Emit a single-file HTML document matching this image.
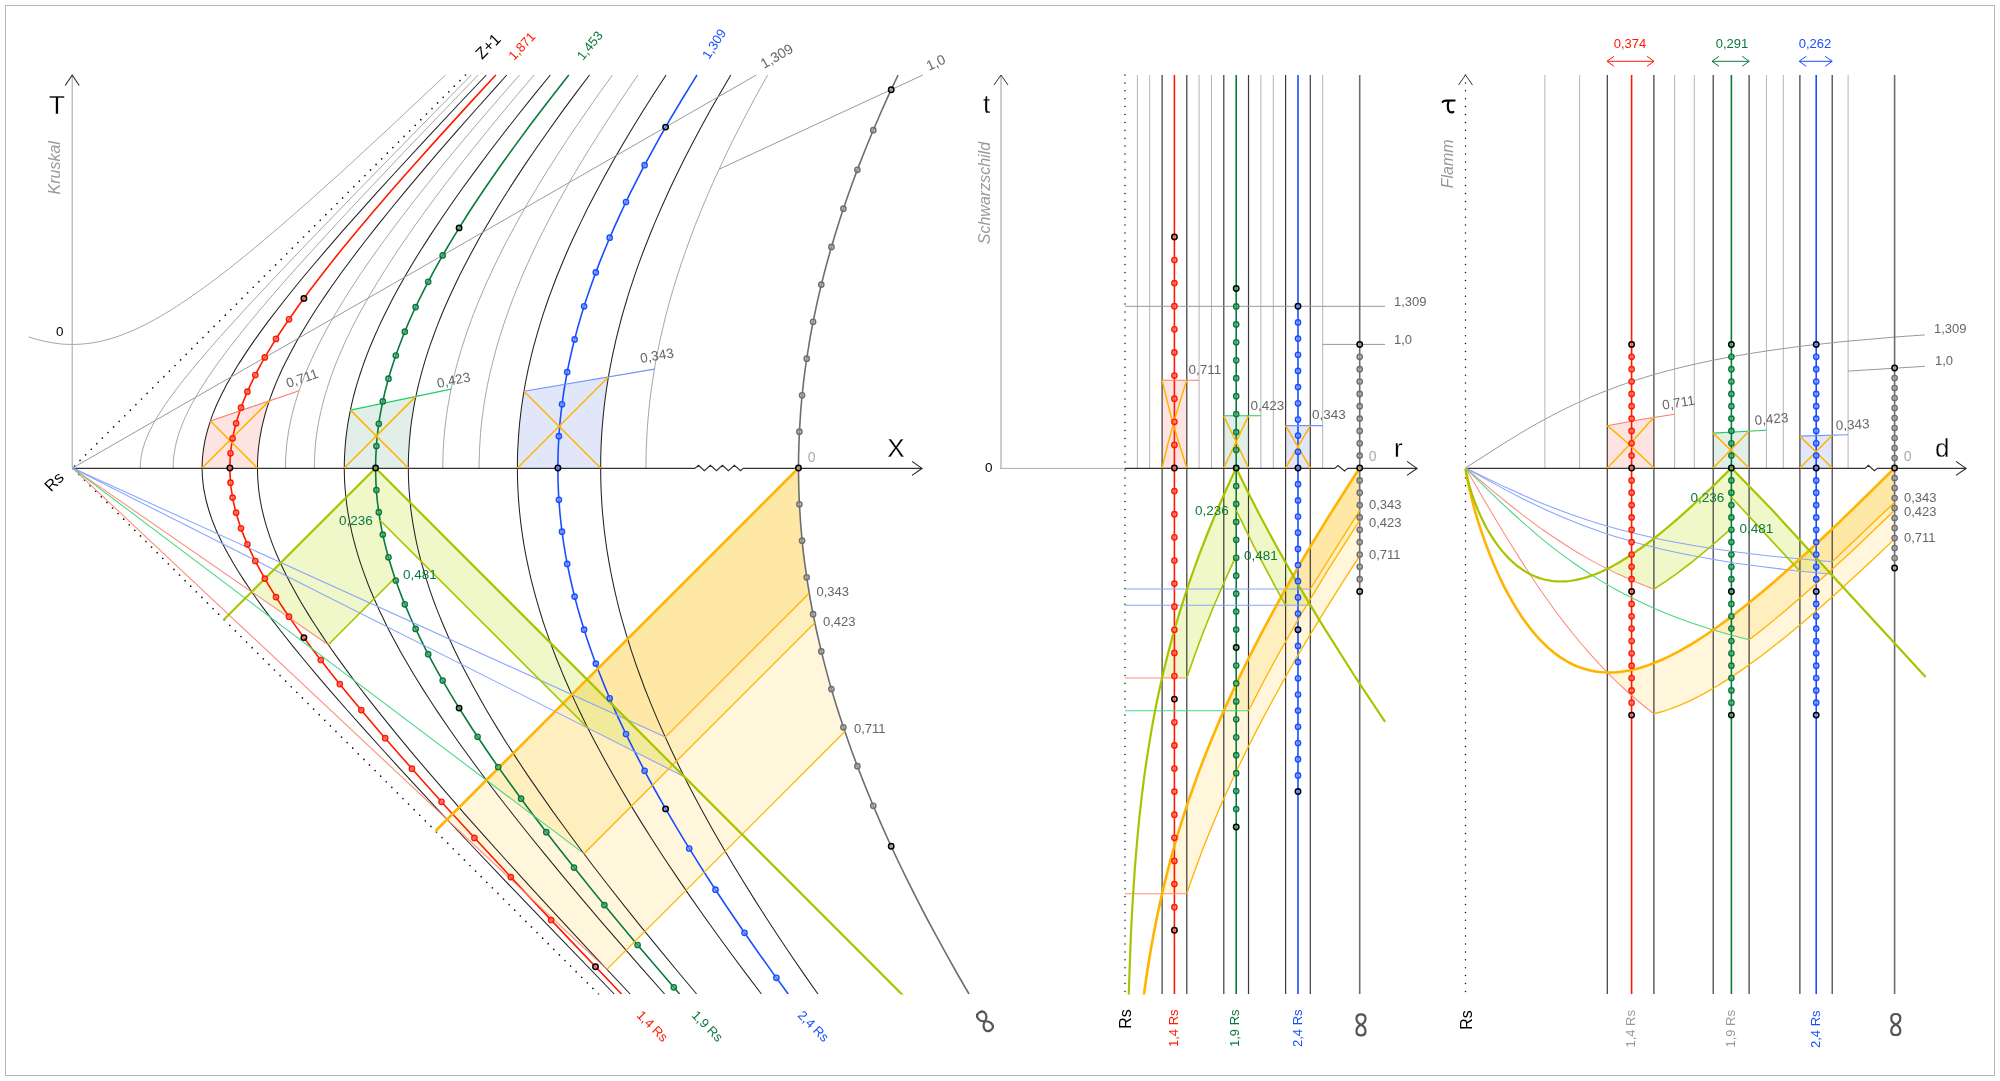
<!DOCTYPE html>
<html><head><meta charset="utf-8"><style>
html,body{margin:0;padding:0;background:#fff;}
body{width:2000px;height:1081px;overflow:hidden;}
svg{display:block;will-change:transform;}
text{font-family:"Liberation Sans",sans-serif;}
</style></head><body>
<svg width="2000" height="1081" viewBox="0 0 2000 1081">
<rect x="0" y="0" width="2000" height="1081" fill="#fff"/>
<rect x="5.5" y="5.5" width="1989" height="1070" fill="none" stroke="#b5b5b5" stroke-width="1"/>
<defs>
<clipPath id="clipall"><rect x="0" y="60" width="2000" height="934.5"/></clipPath>
<clipPath id="cs"><rect x="990" y="74" width="440" height="921"/></clipPath>
<clipPath id="cf"><rect x="1440" y="74" width="540" height="921"/></clipPath>
</defs>
<g clip-path="url(#clipall)">
<path d="M202.1,468.0L202.4,460.1L203.1,452.1L204.3,444.0L206.0,435.9L208.3,427.7L210.4,421.0L269.3,400.9L266.2,410.4L263.6,419.9L261.5,429.2L260.2,436.1L259.1,443.0L258.3,449.8L257.8,456.7L257.5,463.5L257.4,468.0Z" fill="#fde4e1" stroke="none" stroke-width="0" />
<path d="M344.3,468.0L344.6,456.1L345.3,444.2L346.6,432.2L348.5,420.2L350.4,410.1L415.9,396.4L413.5,408.9L411.6,421.3L410.1,433.6L409.1,445.9L408.5,458.2L408.3,468.0Z" fill="#e2eee8" stroke="none" stroke-width="0" />
<path d="M517.4,468.0L517.7,452.2L518.5,436.4L519.9,420.5L521.9,404.6L524.0,391.3L608.4,377.0L606.0,392.8L604.0,408.5L602.5,424.2L601.4,439.9L600.8,455.5L600.6,468.0Z" fill="#e1e7f9" stroke="none" stroke-width="0" />
<path d="M571.8,694.7L798.5,468.0L798.6,481.1L799.0,494.2L799.6,507.4L800.4,520.5L801.5,533.6L802.8,546.8L804.3,560.0L806.1,573.2L808.1,586.5L809.2,593.2L665.3,737.1L571.8,694.7Z" fill="rgba(255,196,40,0.16)" stroke="none" stroke-width="0" />
<path d="M486.4,780.1L798.5,468.0L798.6,476.1L798.7,484.2L798.9,492.3L799.2,500.3L799.6,508.4L800.1,516.5L800.7,524.6L801.4,532.8L802.2,540.9L803.0,549.0L804.0,557.2L805.0,565.3L806.1,573.5L807.4,581.6L808.7,589.8L810.1,598.0L811.6,606.3L813.1,614.5L814.8,622.8L583.9,853.7L486.4,780.1Z" fill="rgba(255,196,40,0.16)" stroke="none" stroke-width="0" />
<path d="M447.1,819.4L798.5,468.0L798.6,481.6L799.0,495.2L799.7,508.8L800.5,522.4L801.7,536.0L803.1,549.7L804.7,563.3L806.7,577.1L808.8,590.8L811.3,604.6L813.9,618.4L816.9,632.3L820.1,646.3L823.6,660.3L827.3,674.4L831.3,688.6L835.5,702.8L840.1,717.1L844.9,731.5L606.9,969.4L447.1,819.4Z" fill="rgba(255,196,40,0.16)" stroke="none" stroke-width="0" />
<path d="M251.8,591.8L375.6,468.0L375.6,473.7L375.8,479.3L376.0,485.0L376.4,490.7L376.9,496.4L377.5,502.1L378.2,507.8L379.0,513.5L379.9,519.3L380.9,525.0L382.0,530.8L383.2,536.6L384.6,542.4L386.0,548.3L387.6,554.2L389.2,560.1L391.0,566.0L392.9,572.0L394.9,578.0L328.3,644.7L251.8,591.8Z" fill="rgba(200,225,60,0.28)" stroke="none" stroke-width="0" />
<path d="M375.6,468.0L684.2,776.7L587.8,728.0L380.0,520.2L378.4,509.2L377.1,498.2L376.2,487.2L375.7,476.2L375.6,468.0Z" fill="rgba(200,225,60,0.28)" stroke="none" stroke-width="0" />
<path d="M1162.1,468.0L1162.1,380.2L1186.8,380.2L1186.8,468.0Z" fill="#fde4e1" stroke="none" stroke-width="0" />
<path d="M1223.8,468.0L1223.8,415.7L1248.5,415.7L1248.5,468.0Z" fill="#e2eee8" stroke="none" stroke-width="0" />
<path d="M1285.6,468.0L1285.6,425.6L1310.3,425.6L1310.3,468.0Z" fill="#e1e7f9" stroke="none" stroke-width="0" />
<path d="M1285.6,589.0L1336.3,504.5L1359.7,468.0L1359.7,510.4L1310.3,589.0L1285.6,589.0Z" fill="rgba(255,196,40,0.16)" stroke="none" stroke-width="0" />
<path d="M1223.8,710.8L1234.2,688.2L1246.2,663.2L1261.7,632.9L1280.6,597.9L1303.0,559.0L1332.2,510.9L1359.7,468.0L1359.7,520.3L1321.7,580.1L1292.2,629.8L1269.7,670.2L1251.4,705.2L1248.5,710.8L1223.8,710.8Z" fill="rgba(255,196,40,0.16)" stroke="none" stroke-width="0" />
<path d="M1162.1,893.7L1164.6,883.2L1167.1,873.1L1169.6,863.4L1172.1,854.2L1174.6,845.3L1177.1,836.7L1182.1,820.4L1187.1,805.0L1192.1,790.4L1197.1,776.5L1202.1,763.2L1207.1,750.4L1214.6,732.1L1222.1,714.7L1229.6,698.0L1237.1,681.9L1247.1,661.3L1257.2,641.6L1269.7,617.9L1284.7,590.7L1302.2,560.3L1322.2,527.1L1344.7,491.2L1359.7,468.0L1359.7,555.8L1333.5,596.8L1311.6,632.4L1291.9,665.9L1276.5,693.1L1263.4,717.4L1252.5,738.6L1241.5,760.6L1232.8,779.0L1224.0,798.2L1217.4,813.3L1210.9,829.0L1204.3,845.4L1197.7,862.6L1193.3,874.7L1189.0,887.2L1186.8,893.7L1162.1,893.7Z" fill="rgba(255,196,40,0.16)" stroke="none" stroke-width="0" />
<path d="M1162.1,677.9L1167.7,654.8L1174.3,630.5L1181.8,605.5L1191.2,577.2L1202.4,546.5L1216.5,511.8L1235.3,470.0L1236.2,468.0L1236.2,555.8L1213.0,607.8L1196.2,651.0L1186.8,677.9L1162.1,677.9Z" fill="rgba(200,225,60,0.28)" stroke="none" stroke-width="0" />
<path d="M1236.2,468.0L1261.5,518.7L1298.1,584.6L1310.3,605.2L1285.6,605.2L1246.2,531.0L1236.2,510.4L1236.2,468.0Z" fill="rgba(200,225,60,0.28)" stroke="none" stroke-width="0" />
<path d="M1607.3,468.0L1607.3,425.8L1637.7,420.0L1653.9,417.3L1653.9,468.0Z" fill="#fde4e1" stroke="none" stroke-width="0" />
<path d="M1713.2,468.0L1713.2,433.1L1749.1,431.0L1749.1,468.0Z" fill="#e2eee8" stroke="none" stroke-width="0" />
<path d="M1799.9,468.0L1799.9,436.1L1832.2,435.2L1832.2,468.0Z" fill="#e1e7f9" stroke="none" stroke-width="0" />
<path d="M1799.9,559.0L1894.6,468.0L1894.6,502.3L1832.2,561.7L1799.9,559.0Z" fill="rgba(255,196,40,0.16)" stroke="none" stroke-width="0" />
<path d="M1713.2,629.9L1725.9,620.7L1740.9,609.3L1760.3,593.5L1786.2,571.2L1822.7,537.9L1890.3,472.3L1894.6,468.0L1894.6,510.3L1834.2,567.5L1797.4,600.4L1770.7,622.8L1751.1,638.2L1749.1,639.7L1733.4,635.6L1717.3,631.1L1713.2,629.9Z" fill="rgba(255,196,40,0.16)" stroke="none" stroke-width="0" />
<path d="M1607.3,672.5L1612.5,672.5L1617.5,672.2L1622.4,671.6L1627.2,670.8L1631.9,669.9L1636.6,668.8L1641.1,667.5L1645.6,666.1L1650.0,664.5L1654.4,662.9L1658.7,661.1L1662.9,659.3L1667.1,657.3L1671.3,655.3L1675.4,653.2L1683.4,648.8L1691.4,644.1L1699.2,639.2L1706.8,634.2L1714.4,629.0L1725.5,621.0L1736.4,612.8L1750.7,601.4L1764.7,589.9L1781.8,575.1L1805.3,554.1L1834.6,526.6L1882.1,480.4L1894.6,468.0L1894.6,539.1L1853.4,577.7L1825.3,603.0L1802.4,622.9L1784.8,637.5L1769.8,649.3L1757.7,658.5L1745.3,667.5L1735.9,674.0L1726.4,680.3L1716.7,686.3L1710.1,690.2L1703.5,693.9L1696.7,697.4L1689.9,700.8L1682.9,703.9L1675.9,706.9L1668.7,709.5L1665.0,710.7L1661.4,711.8L1657.6,712.9L1653.9,713.8L1649.1,710.1L1644.2,706.2L1639.2,702.1L1634.2,697.8L1629.1,693.3L1623.8,688.5L1618.5,683.5L1613.0,678.2L1607.3,672.5Z" fill="rgba(255,196,40,0.16)" stroke="none" stroke-width="0" />
<path d="M1607.3,568.8L1615.0,564.8L1624.2,559.3L1634.8,552.4L1646.7,543.9L1662.9,531.2L1684.4,512.7L1720.4,478.9L1731.4,468.0L1731.4,528.4L1694.8,559.7L1670.8,577.9L1653.9,589.2L1644.2,585.4L1634.2,581.3L1623.8,576.7L1613.0,571.6L1607.3,568.8Z" fill="rgba(200,225,60,0.28)" stroke="none" stroke-width="0" />
<path d="M1731.4,468.0L1832.2,574.3L1799.9,571.2L1731.4,497.2L1731.4,468.0Z" fill="rgba(200,225,60,0.28)" stroke="none" stroke-width="0" />
<path d="M140.2,468.0L140.3,465.2L140.5,462.3L140.7,459.5L141.2,456.7L141.7,453.8L142.3,450.9L143.1,448.0L144.0,445.0L145.0,442.0L146.2,439.0L147.5,435.9L148.9,432.7L150.4,429.5L152.1,426.2L153.9,422.9L155.8,419.4L160.2,412.3L165.1,404.8L170.7,396.8L177.0,388.4L184.0,379.4L191.8,369.8L200.4,359.5L209.9,348.4L220.4,336.5L238.0,317.0L258.2,295.1L281.4,270.4L317.4,232.7L360.2,188.4L425.1,121.9L471.3,75.0" fill="none" stroke="#a6a6a6" stroke-width="1" />
<path d="M173.2,468.0L173.2,464.5L173.4,460.9L173.7,457.4L174.2,453.8L174.7,450.2L175.4,446.6L176.2,443.0L177.2,439.4L178.2,435.7L179.4,431.9L180.8,428.2L182.2,424.3L183.8,420.4L185.6,416.5L187.5,412.5L189.5,408.4L191.6,404.3L194.0,400.1L196.4,395.8L199.0,391.4L201.8,386.9L207.8,377.6L214.5,367.9L221.9,357.6L230.0,346.9L238.9,335.5L248.6,323.5L259.2,310.8L270.7,297.2L283.2,282.9L296.7,267.6L319.1,242.9L344.2,215.6L372.4,185.5L403.8,152.3L451.6,102.5L478.2,75.0" fill="none" stroke="#a6a6a6" stroke-width="1" />
<path d="M285.5,468.0L285.5,463.0L285.7,458.1L286.0,453.1L286.4,448.2L286.9,443.2L287.6,438.2L288.3,433.2L289.2,428.1L290.2,423.1L291.3,418.0L292.5,412.9L293.8,407.8L295.3,402.6L296.9,397.4L298.6,392.2L300.4,386.9L302.4,381.6L304.4,376.2L306.6,370.8L308.9,365.3L311.4,359.8L314.0,354.2L316.7,348.6L319.5,342.8L322.5,337.1L325.6,331.2L328.9,325.3L332.3,319.3L335.8,313.2L343.3,300.8L351.4,288.0L360.0,274.8L369.3,261.2L379.3,247.2L389.9,232.7L401.2,217.7L413.2,202.1L425.9,186.0L439.4,169.2L453.7,151.8L468.8,133.7L484.8,114.9L501.7,95.4L519.5,75.0" fill="none" stroke="#a6a6a6" stroke-width="1" />
<path d="M314.3,468.0L314.4,462.8L314.6,457.6L314.8,452.5L315.2,447.3L315.7,442.1L316.3,436.9L317.1,431.6L317.9,426.4L318.8,421.1L319.9,415.9L321.1,410.6L322.4,405.2L323.8,399.9L325.3,394.5L326.9,389.1L328.7,383.6L330.5,378.1L332.5,372.6L334.6,367.0L336.8,361.3L339.2,355.7L341.6,349.9L344.2,344.1L346.9,338.3L349.8,332.4L352.7,326.4L355.8,320.4L359.0,314.3L362.4,308.2L369.5,295.6L377.2,282.7L385.4,269.5L394.1,255.9L403.5,242.0L413.5,227.6L424.1,212.8L435.3,197.5L447.2,181.7L459.8,165.4L473.1,148.6L487.2,131.2L502.0,113.1L517.6,94.4L534.0,75.0" fill="none" stroke="#a6a6a6" stroke-width="1" />
<path d="M442.8,468.0L442.8,462.2L443.0,456.4L443.2,450.6L443.5,444.8L443.9,439.0L444.4,433.2L445.0,427.3L445.7,421.5L446.5,415.6L447.3,409.8L448.3,403.9L449.4,398.0L450.5,392.1L451.7,386.2L453.1,380.2L454.5,374.2L456.0,368.2L457.6,362.2L459.3,356.2L461.1,350.1L463.0,344.0L465.0,337.9L467.1,331.7L471.5,319.3L476.4,306.7L481.7,294.0L487.3,281.1L493.4,268.0L499.8,254.7L506.7,241.2L514.1,227.5L521.8,213.5L530.0,199.3L538.6,184.9L547.7,170.1L557.3,155.1L567.3,139.7L577.9,124.1L588.9,108.1L600.4,91.7L612.5,75.0" fill="none" stroke="#a6a6a6" stroke-width="1" />
<path d="M479.1,468.0L479.1,462.1L479.3,456.2L479.5,450.3L479.8,444.3L480.2,438.4L480.6,432.5L481.2,426.6L481.8,420.6L482.6,414.7L483.4,408.7L484.3,402.7L485.3,396.7L486.4,390.7L487.5,384.7L488.8,378.7L490.1,372.6L491.6,366.5L493.1,360.4L496.4,348.1L500.1,335.8L504.1,323.3L508.5,310.7L513.2,297.9L518.4,285.0L523.9,272.0L529.8,258.8L536.0,245.4L542.7,231.8L549.8,218.1L557.2,204.1L565.1,189.9L573.4,175.4L582.1,160.8L591.3,145.8L600.9,130.6L610.9,115.1L621.4,99.3L632.3,83.2L638.0,75.0" fill="none" stroke="#a6a6a6" stroke-width="1" />
<path d="M645.9,468.0L646.1,455.5L646.5,443.1L647.2,430.6L648.1,418.1L649.3,405.6L650.8,393.1L652.6,380.5L654.6,367.9L656.9,355.2L659.5,342.5L662.4,329.7L665.5,316.9L668.9,304.0L672.6,291.0L676.6,277.9L680.9,264.7L685.5,251.5L690.3,238.1L695.4,224.6L700.9,211.0L706.6,197.3L712.6,183.5L719.0,169.5L725.6,155.4L732.5,141.2L739.8,126.8L747.4,112.2L755.2,97.4L763.5,82.5L767.7,75.0" fill="none" stroke="#a6a6a6" stroke-width="1" />
<path d="M614.2,994.0L549.2,926.7L505.9,881.6L466.9,840.5L431.8,803.2L400.3,769.1L381.1,748.0L363.2,728.2L346.6,709.5L331.2,691.9L317.0,675.3L303.8,659.5L291.6,644.6L280.4,630.5L270.1,617.1L260.6,604.4L256.2,598.2L252.0,592.2L248.0,586.3L244.2,580.6L240.6,575.0L237.1,569.5L233.8,564.1L230.8,558.8L227.8,553.6L225.1,548.5L222.5,543.5L220.1,538.6L217.8,533.7L215.7,529.0L213.8,524.2L212.0,519.6L210.4,515.0L208.9,510.5L207.6,506.0L206.4,501.5L205.4,497.1L204.5,492.7L203.7,488.4L203.1,484.1L202.7,479.7L202.3,475.4L202.2,471.1L202.1,466.9L202.2,462.6L202.5,458.3L202.9,454.0L203.4,449.6L204.1,445.3L204.9,440.9L205.9,436.5L207.0,432.1L208.3,427.6L209.7,423.1L211.2,418.6L212.9,413.9L214.8,409.3L216.8,404.5L219.0,399.7L221.4,394.8L223.9,389.9L226.5,384.8L229.4,379.7L232.4,374.4L235.6,369.1L238.9,363.6L242.5,358.1L246.2,352.4L250.1,346.6L254.2,340.6L258.5,334.6L267.8,321.9L277.9,308.7L288.9,294.7L300.8,280.0L313.8,264.5L327.8,248.1L342.9,230.7L359.2,212.3L376.8,192.7L395.7,172.0L426.7,138.4L461.2,101.5L486.3,75.0" fill="none" stroke="#222" stroke-width="1.05" />
<path d="M630.1,994.0L588.6,949.8L550.6,908.9L527.1,883.3L505.0,859.0L484.2,835.8L464.6,813.8L446.2,792.7L428.9,772.7L412.7,753.6L397.6,735.3L383.4,717.9L370.1,701.2L357.8,685.2L346.3,669.9L335.6,655.1L330.6,648.0L325.7,641.0L321.1,634.1L316.6,627.3L312.3,620.7L308.2,614.1L304.3,607.7L300.5,601.4L297.0,595.2L293.6,589.1L290.3,583.1L287.2,577.1L284.3,571.3L281.6,565.5L279.0,559.8L276.5,554.2L274.2,548.6L272.1,543.1L270.1,537.6L268.3,532.2L266.6,526.9L265.1,521.6L263.7,516.3L262.4,511.1L261.3,505.9L260.3,500.7L259.5,495.6L258.8,490.5L258.3,485.4L257.9,480.3L257.6,475.2L257.5,470.1L257.5,465.0L257.6,460.0L257.9,454.9L258.3,449.8L258.9,444.7L259.6,439.5L260.5,434.4L261.5,429.2L262.6,424.0L263.9,418.8L265.3,413.5L266.9,408.2L268.6,402.8L270.5,397.4L272.5,392.0L274.6,386.5L276.9,380.9L279.4,375.2L282.0,369.5L284.8,363.7L287.8,357.9L290.9,351.9L294.1,345.9L297.6,339.7L301.2,333.5L305.0,327.2L308.9,320.8L313.0,314.2L317.3,307.5L321.8,300.8L326.5,293.9L331.4,286.8L341.7,272.3L352.9,257.2L364.9,241.5L377.8,225.1L391.6,208.0L406.3,190.1L422.1,171.3L438.9,151.7L456.8,131.1L475.9,109.5L496.2,86.8L506.8,75.0" fill="none" stroke="#222" stroke-width="1.05" />
<path d="M664.6,994.0L642.3,968.8L621.2,944.6L601.0,921.3L581.9,898.8L563.7,877.1L546.4,856.2L530.0,836.0L514.5,816.5L499.8,797.7L485.9,779.5L472.8,761.8L460.4,744.8L448.8,728.2L437.8,712.1L432.6,704.3L427.6,696.5L422.7,688.9L418.0,681.3L413.5,673.9L409.1,666.6L404.9,659.3L400.8,652.2L396.9,645.1L393.1,638.1L389.5,631.2L386.1,624.4L382.8,617.6L379.6,610.9L376.6,604.3L373.7,597.7L370.9,591.2L368.3,584.8L365.9,578.4L363.6,572.1L361.4,565.8L359.3,559.6L357.4,553.4L355.6,547.2L354.0,541.1L352.4,535.0L351.1,529.0L349.8,522.9L348.7,516.9L347.7,511.0L346.8,505.0L346.1,499.1L345.5,493.2L345.0,487.3L344.6,481.4L344.4,475.5L344.3,469.6L344.3,463.7L344.5,457.8L344.8,451.9L345.2,446.0L345.7,440.1L346.4,434.1L347.2,428.2L348.1,422.2L349.2,416.3L350.4,410.2L351.7,404.2L353.1,398.1L354.7,392.0L356.4,385.9L358.3,379.7L360.3,373.5L362.4,367.3L364.6,361.0L367.0,354.6L369.5,348.2L372.2,341.7L375.0,335.2L378.0,328.6L381.0,322.0L384.3,315.2L387.7,308.5L391.2,301.6L394.9,294.6L398.7,287.6L402.7,280.5L406.8,273.3L411.1,266.0L415.6,258.6L420.2,251.1L425.0,243.6L429.9,235.9L440.3,220.2L451.4,204.0L463.2,187.3L475.8,170.1L489.1,152.3L503.1,134.0L518.0,115.0L533.7,95.3L550.3,75.0" fill="none" stroke="#222" stroke-width="1.05" />
<path d="M696.6,994.0L677.3,971.0L658.9,948.7L641.3,927.1L624.5,906.1L608.5,885.7L593.2,866.0L578.7,846.7L564.9,828.0L551.7,809.9L539.3,792.1L527.4,774.9L516.3,758.1L505.7,741.7L495.8,725.6L491.0,717.7L486.4,710.0L482.0,702.2L477.7,694.6L473.5,687.1L469.5,679.6L465.6,672.2L461.8,664.9L458.2,657.6L454.7,650.5L451.4,643.3L448.1,636.3L445.1,629.3L442.1,622.3L439.3,615.4L436.6,608.6L434.0,601.8L431.6,595.1L429.3,588.4L427.1,581.7L425.0,575.1L423.1,568.5L421.2,561.9L419.5,555.4L418.0,549.0L416.5,542.5L415.2,536.1L414.0,529.7L412.9,523.3L411.9,516.9L411.0,510.6L410.3,504.3L409.7,497.9L409.2,491.6L408.8,485.3L408.5,479.0L408.4,472.7L408.3,466.5L408.4,460.2L408.6,453.9L409.0,447.6L409.4,441.3L410.0,435.0L410.6,428.6L411.4,422.3L412.4,416.0L413.4,409.6L414.5,403.2L415.8,396.8L417.2,390.3L418.7,383.9L420.4,377.4L422.1,370.8L424.0,364.3L426.0,357.7L428.1,351.1L430.4,344.4L432.8,337.7L435.3,330.9L437.9,324.1L440.6,317.2L443.5,310.3L446.6,303.3L449.7,296.3L453.0,289.2L456.4,282.0L459.9,274.8L463.6,267.5L467.4,260.2L471.4,252.7L475.5,245.2L479.7,237.6L484.1,230.0L488.7,222.2L493.3,214.4L503.1,198.5L513.5,182.1L524.5,165.4L536.2,148.3L548.5,130.7L561.4,112.6L575.1,94.1L589.5,75.0" fill="none" stroke="#222" stroke-width="1.05" />
<path d="M761.4,994.0L745.8,973.4L730.8,953.2L716.4,933.5L702.6,914.2L689.4,895.4L676.8,876.9L664.6,858.8L653.1,841.0L642.1,823.6L631.6,806.6L621.6,789.8L612.1,773.3L603.1,757.1L594.6,741.2L586.5,725.5L579.0,710.1L575.4,702.4L571.9,694.8L568.5,687.3L565.2,679.8L562.1,672.4L559.1,665.0L556.1,657.7L553.3,650.4L550.6,643.1L548.0,635.9L545.5,628.7L543.1,621.6L540.9,614.5L538.7,607.4L536.7,600.3L534.7,593.3L532.9,586.4L531.1,579.4L529.5,572.5L528.0,565.6L526.5,558.7L525.2,551.8L524.0,545.0L522.9,538.2L521.9,531.3L521.0,524.6L520.2,517.8L519.5,511.0L518.9,504.2L518.4,497.5L518.0,490.7L517.7,484.0L517.5,477.3L517.4,470.5L517.4,463.8L517.5,457.1L517.7,450.3L518.1,443.6L518.5,436.8L519.0,430.1L519.6,423.3L520.4,416.6L521.2,409.8L522.1,403.0L523.2,396.2L524.3,389.3L525.5,382.5L526.9,375.6L528.3,368.7L529.9,361.8L531.5,354.9L533.3,347.9L535.2,340.9L537.2,333.9L539.2,326.9L541.4,319.8L543.7,312.7L546.1,305.5L548.6,298.3L551.3,291.1L554.0,283.8L556.8,276.5L559.8,269.2L562.9,261.8L566.0,254.3L569.3,246.8L572.7,239.3L576.3,231.7L579.9,224.1L587.5,208.6L595.6,192.9L604.2,176.9L613.2,160.7L622.8,144.2L632.8,127.4L643.4,110.2L654.5,92.8L666.1,75.0" fill="none" stroke="#222" stroke-width="1.05" />
<path d="M817.9,994.0L804.3,974.6L791.2,955.5L778.6,936.7L766.5,918.3L754.9,900.1L743.8,882.3L733.1,864.8L722.9,847.5L713.1,830.5L703.8,813.8L694.9,797.3L686.4,781.0L678.4,764.9L670.8,749.1L663.6,733.4L656.8,717.9L650.4,702.6L644.4,687.5L638.9,672.5L636.2,665.1L633.7,657.7L631.2,650.3L628.9,642.9L626.6,635.6L624.5,628.4L622.4,621.1L620.4,613.9L618.5,606.7L616.8,599.5L615.1,592.3L613.5,585.2L612.0,578.1L610.6,571.0L609.3,563.9L608.1,556.9L606.9,549.8L605.9,542.8L605.0,535.8L604.1,528.8L603.4,521.8L602.7,514.8L602.1,507.8L601.7,500.8L601.3,493.9L601.0,486.9L600.8,479.9L600.7,473.0L600.7,466.0L600.7,459.1L600.9,452.1L601.1,445.2L601.5,438.2L601.9,431.2L602.5,424.3L603.1,417.3L603.8,410.3L604.6,403.3L605.5,396.3L606.5,389.2L607.6,382.2L608.7,375.2L610.0,368.1L611.4,361.0L612.8,353.9L614.4,346.8L616.0,339.6L617.8,332.5L619.6,325.3L621.5,318.0L623.5,310.8L625.7,303.5L627.9,296.2L630.2,288.9L632.6,281.6L635.1,274.2L637.7,266.7L643.2,251.8L649.1,236.7L655.4,221.4L662.1,206.0L669.2,190.3L676.7,174.5L684.6,158.5L693.0,142.3L701.8,125.8L711.0,109.1L720.7,92.2L730.8,75.0" fill="none" stroke="#222" stroke-width="1.05" />
<path d="M28.8,336.9L34.0,338.6L39.3,340.1L44.6,341.3L49.9,342.4L55.1,343.2L60.4,343.9L65.7,344.3L71.0,344.4L76.2,344.4L81.5,344.1L86.8,343.6L92.1,342.9L97.4,342.0L102.6,340.8L107.9,339.5L113.2,337.9L118.5,336.2L123.7,334.2L129.0,332.1L134.3,329.9L139.6,327.4L144.8,324.8L150.1,322.1L155.4,319.2L160.7,316.2L165.9,313.1L171.2,309.9L176.5,306.5L187.0,299.5L197.6,292.2L208.2,284.5L218.7,276.6L229.3,268.4L245.1,255.8L260.9,242.7L282.0,224.8L308.4,201.7L340.1,173.3L387.5,129.6L445.6,75.0" fill="none" stroke="#a6a6a6" stroke-width="1" />
<path d="M72.2,468.0L72.2,75.0" fill="none" stroke="#ababab" stroke-width="1.1" />
<path d="M65.2,85.5 L72.2,75.0 L79.2,85.5" fill="none" stroke="#333" stroke-width="1.2"/>
<path d="M465.5,75.0L72.5,468.0" fill="none" stroke="#111" stroke-width="1.7" stroke-dasharray="0 7.9" stroke-linecap="round"/>
<path d="M598.5,994.0L72.5,468.0" fill="none" stroke="#111" stroke-width="1.7" stroke-dasharray="0 7.9" stroke-linecap="round"/>
<path d="M72.5,468.4L694.8,468.4L698.5,465.2L704.4,470.8L710.4,465.2L716.4,470.8L722.4,465.2L728.4,470.8L734.4,465.2L740.5,470.8L743.1,468.4L922.0,468.4" fill="none" stroke="#333" stroke-width="1.2" stroke-linejoin="miter"/>
<path d="M912.0,461.4 L922.0,468.4 L912.0,475.4" fill="none" stroke="#222" stroke-width="1.1"/>
<path d="M72.6,468.0L756.3,75.0" fill="none" stroke="#999" stroke-width="1" />
<path d="M719.1,169.2L922.9,75.0" fill="none" stroke="#999" stroke-width="1" />
<path d="M621.5,994.0L565.9,935.6L516.4,883.1L480.9,844.8L448.6,809.7L419.5,777.2L399.4,754.5L380.8,733.2L363.7,713.0L347.8,693.9L333.2,675.9L319.8,658.8L311.5,647.9L303.7,637.3L296.3,627.1L289.4,617.3L282.9,607.7L276.8,598.4L271.2,589.3L265.9,580.5L261.1,571.9L256.6,563.6L252.5,555.4L248.8,547.4L245.4,539.6L242.3,531.9L239.6,524.3L237.3,516.9L235.2,509.5L233.5,502.3L232.2,495.1L231.1,487.9L230.4,480.8L230.0,473.8L229.9,466.7L230.1,459.6L230.6,452.6L231.5,445.4L232.6,438.3L234.1,431.1L236.0,423.8L238.1,416.4L240.6,408.9L243.4,401.3L246.6,393.6L250.1,385.7L254.0,377.6L258.2,369.4L262.8,360.9L267.8,352.3L273.2,343.4L279.0,334.3L285.2,324.9L291.9,315.2L298.9,305.2L306.5,294.8L314.5,284.2L327.4,267.4L341.5,249.8L356.8,231.2L373.4,211.5L391.4,190.6L410.8,168.5L439.1,136.9L470.3,102.6L495.8,75.0" fill="none" stroke="#ff1a00" stroke-width="1.6" />
<path d="M679.6,994.0L656.4,967.1L634.4,941.2L613.6,916.3L593.9,892.3L575.3,869.1L557.6,846.8L541.0,825.3L525.3,804.5L510.6,784.3L496.7,764.9L488.0,752.2L479.6,739.8L471.6,727.7L464.0,715.8L456.7,704.1L449.7,692.6L443.1,681.3L436.9,670.3L430.9,659.4L425.3,648.7L420.1,638.1L415.1,627.7L410.4,617.5L406.1,607.4L402.0,597.4L398.3,587.5L394.8,577.7L391.7,568.1L388.8,558.5L386.2,549.0L383.9,539.6L381.9,530.3L380.2,521.0L378.7,511.7L377.5,502.5L376.6,493.3L376.0,484.2L375.7,475.0L375.6,465.9L375.8,456.8L376.3,447.6L377.0,438.5L378.0,429.3L379.3,420.1L380.9,410.8L382.8,401.5L384.9,392.1L387.4,382.6L390.1,373.1L393.1,363.5L396.4,353.8L400.0,344.0L403.8,334.1L408.0,324.0L412.5,313.8L417.3,303.5L422.4,293.1L427.9,282.4L433.6,271.6L439.7,260.7L446.1,249.5L452.9,238.2L460.0,226.6L467.4,214.8L475.2,202.8L483.4,190.5L492.0,178.0L500.9,165.3L515.0,145.6L530.0,125.2L546.0,104.2L562.9,82.4L568.8,75.0" fill="none" stroke="#0a7a3c" stroke-width="1.6" />
<path d="M788.2,994.0L771.9,971.6L756.3,949.7L741.4,928.2L727.1,907.3L713.5,886.7L700.6,866.6L688.3,846.9L676.6,827.6L665.5,808.6L655.0,790.0L648.3,777.8L641.9,765.7L635.7,753.7L629.8,741.9L624.1,730.2L618.7,718.6L613.5,707.1L608.6,695.7L603.9,684.4L599.5,673.2L595.2,662.2L591.3,651.2L587.5,640.2L584.0,629.4L580.7,618.6L577.6,607.9L574.8,597.3L572.2,586.7L569.8,576.2L567.6,565.7L565.6,555.2L563.9,544.8L562.4,534.5L561.1,524.1L560.0,513.8L559.2,503.5L558.5,493.3L558.1,483.0L557.9,472.7L557.9,462.5L558.1,452.2L558.6,442.0L559.2,431.7L560.1,421.4L561.2,411.1L562.5,400.8L564.0,390.4L565.8,380.0L567.7,369.5L569.9,359.1L572.3,348.5L575.0,337.9L577.8,327.3L580.9,316.6L584.2,305.8L587.8,295.0L591.6,284.0L595.6,273.0L599.8,261.9L604.3,250.7L609.0,239.5L613.9,228.1L619.1,216.6L624.5,205.0L630.2,193.2L636.2,181.4L642.3,169.4L648.8,157.3L658.9,138.9L669.6,120.1L681.0,101.0L692.9,81.6L697.0,75.0" fill="none" stroke="#1a4dff" stroke-width="1.6" />
<path d="M969.0,994.0L957.4,974.0L946.3,954.2L935.6,934.7L925.3,915.5L915.5,896.4L906.1,877.6L897.1,859.0L888.5,840.5L880.4,822.3L872.6,804.2L865.3,786.4L858.3,768.6L851.7,751.1L845.6,733.6L839.8,716.3L834.4,699.2L829.4,682.1L824.8,665.1L820.6,648.3L816.7,631.5L813.2,614.9L810.1,598.3L807.4,581.7L805.0,565.2L803.6,554.3L802.4,543.3L801.4,532.4L800.5,521.5L799.8,510.6L799.2,499.7L798.8,488.9L798.6,478.0L798.5,467.1L798.6,456.2L798.9,445.4L799.3,434.5L799.9,423.6L800.6,412.7L801.5,401.8L802.6,390.9L803.8,379.9L805.2,369.0L807.7,352.5L810.4,335.9L813.6,319.3L817.1,302.6L821.0,285.9L825.3,269.0L830.0,252.0L835.0,235.0L840.4,217.8L846.2,200.5L852.4,183.0L859.0,165.4L866.0,147.7L873.4,129.8L881.2,111.7L889.4,93.4L898.1,75.0" fill="none" stroke="#6e6e6e" stroke-width="1.6" />
<path d="M1137.4,468.0L1137.4,75.0" fill="none" stroke="#b4b4b4" stroke-width="1" />
<path d="M1149.7,468.0L1149.7,75.0" fill="none" stroke="#b4b4b4" stroke-width="1" />
<path d="M1199.1,468.0L1199.1,75.0" fill="none" stroke="#b4b4b4" stroke-width="1" />
<path d="M1211.5,468.0L1211.5,75.0" fill="none" stroke="#b4b4b4" stroke-width="1" />
<path d="M1260.9,468.0L1260.9,75.0" fill="none" stroke="#b4b4b4" stroke-width="1" />
<path d="M1273.3,468.0L1273.3,75.0" fill="none" stroke="#b4b4b4" stroke-width="1" />
<path d="M1322.7,468.0L1322.7,75.0" fill="none" stroke="#b4b4b4" stroke-width="1" />
<path d="M1162.1,994.0L1162.1,75.0" fill="none" stroke="#3a3a3a" stroke-width="1.2" />
<path d="M1186.8,994.0L1186.8,75.0" fill="none" stroke="#3a3a3a" stroke-width="1.2" />
<path d="M1223.8,994.0L1223.8,75.0" fill="none" stroke="#3a3a3a" stroke-width="1.2" />
<path d="M1248.5,994.0L1248.5,75.0" fill="none" stroke="#3a3a3a" stroke-width="1.2" />
<path d="M1285.6,994.0L1285.6,75.0" fill="none" stroke="#3a3a3a" stroke-width="1.2" />
<path d="M1310.3,994.0L1310.3,75.0" fill="none" stroke="#3a3a3a" stroke-width="1.2" />
<path d="M1125.0,75.0L1125.0,994.0" fill="none" stroke="#111" stroke-width="1.5" stroke-dasharray="0 7.9" stroke-linecap="round"/>
<path d="M1001.0,468.0L1001.0,75.0" fill="none" stroke="#9a9a9a" stroke-width="1" />
<path d="M994,85 L1001,75 L1008,85" fill="none" stroke="#333" stroke-width="1"/>
<path d="M1000.0,468.4L1125.0,468.4" fill="none" stroke="#aaa" stroke-width="1" />
<path d="M1125.0,468.4L1334.8,468.4L1338.0,465.5L1344.5,471.0L1347.7,468.4L1417.0,468.4" fill="none" stroke="#333" stroke-width="1.2" stroke-linejoin="miter"/>
<path d="M1407.0,461.4 L1417.0,468.4 L1407.0,475.4" fill="none" stroke="#222" stroke-width="1.1"/>
<path d="M1125.0,306.3L1385.1,306.3" fill="none" stroke="#999" stroke-width="1" />
<path d="M1322.7,344.4L1385.1,344.4" fill="none" stroke="#999" stroke-width="1" />
<path d="M1174.4,994.0L1174.4,75.0" fill="none" stroke="#ff1a00" stroke-width="1.6" />
<path d="M1236.2,994.0L1236.2,75.0" fill="none" stroke="#0a7a3c" stroke-width="1.6" />
<path d="M1298.0,994.0L1298.0,75.0" fill="none" stroke="#1a4dff" stroke-width="1.6" />
<path d="M1359.7,994.0L1359.7,75.0" fill="none" stroke="#6e6e6e" stroke-width="1.6" />
<path d="M1544.9,468.0L1544.9,75.0" fill="none" stroke="#b4b4b4" stroke-width="1" />
<path d="M1579.6,468.0L1579.6,75.0" fill="none" stroke="#b4b4b4" stroke-width="1" />
<path d="M1674.6,468.0L1674.6,75.0" fill="none" stroke="#b4b4b4" stroke-width="1" />
<path d="M1694.3,468.0L1694.3,75.0" fill="none" stroke="#b4b4b4" stroke-width="1" />
<path d="M1766.4,468.0L1766.4,75.0" fill="none" stroke="#b4b4b4" stroke-width="1" />
<path d="M1783.3,468.0L1783.3,75.0" fill="none" stroke="#b4b4b4" stroke-width="1" />
<path d="M1848.1,468.0L1848.1,75.0" fill="none" stroke="#b4b4b4" stroke-width="1" />
<path d="M1607.3,994.0L1607.3,75.0" fill="none" stroke="#3a3a3a" stroke-width="1.2" />
<path d="M1653.9,994.0L1653.9,75.0" fill="none" stroke="#3a3a3a" stroke-width="1.2" />
<path d="M1713.2,994.0L1713.2,75.0" fill="none" stroke="#3a3a3a" stroke-width="1.2" />
<path d="M1749.1,994.0L1749.1,75.0" fill="none" stroke="#3a3a3a" stroke-width="1.2" />
<path d="M1799.9,994.0L1799.9,75.0" fill="none" stroke="#3a3a3a" stroke-width="1.2" />
<path d="M1832.2,994.0L1832.2,75.0" fill="none" stroke="#3a3a3a" stroke-width="1.2" />
<path d="M1465.5,75.0L1465.5,994.0" fill="none" stroke="#111" stroke-width="1.5" stroke-dasharray="0 7.9" stroke-linecap="round"/>
<path d="M1458.5,85 L1465.5,75 L1472.5,85" fill="none" stroke="#333" stroke-width="1"/>
<path d="M1465.5,468.4L1865.0,468.4L1868.4,465.2L1874.4,470.8L1877.5,468.4L1966.0,468.4" fill="none" stroke="#333" stroke-width="1.2" stroke-linejoin="miter"/>
<path d="M1956.0,461.4 L1966.0,468.4 L1956.0,475.4" fill="none" stroke="#222" stroke-width="1.1"/>
<path d="M1465.6,467.9L1506.0,442.0L1523.0,431.7L1536.2,424.0L1547.5,417.9L1557.5,412.6L1566.7,408.0L1575.3,403.9L1583.4,400.3L1591.0,396.9L1598.3,393.9L1605.4,391.1L1612.2,388.5L1618.7,386.0L1625.1,383.8L1637.4,379.7L1649.2,376.0L1660.6,372.7L1671.5,369.8L1682.2,367.1L1697.7,363.5L1712.7,360.3L1732.1,356.6L1750.9,353.4L1773.7,349.9L1804.6,345.8L1843.1,341.6L1896.7,336.9L1924.8,334.9" fill="none" stroke="#999" stroke-width="1" />
<path d="M1848.1,371.1L1924.8,366.3" fill="none" stroke="#999" stroke-width="1" />
<path d="M1631.6,994.0L1631.6,75.0" fill="none" stroke="#ff1a00" stroke-width="1.6" />
<path d="M1731.4,994.0L1731.4,75.0" fill="none" stroke="#0a7a3c" stroke-width="1.6" />
<path d="M1816.2,994.0L1816.2,75.0" fill="none" stroke="#1a4dff" stroke-width="1.6" />
<path d="M1894.6,994.0L1894.6,75.0" fill="none" stroke="#6e6e6e" stroke-width="1.6" />
<path d="M210.4,421.0L299.1,390.7" fill="none" stroke="#ff7a68" stroke-width="1.1" />
<path d="M202.1,468.0L269.3,400.9" fill="none" stroke="#ffb400" stroke-width="1.5" />
<path d="M257.4,468.0L210.4,421.0" fill="none" stroke="#ffb400" stroke-width="1.5" />
<path d="M350.4,410.1L451.1,389.1" fill="none" stroke="#22cc66" stroke-width="1.1" />
<path d="M344.3,468.0L415.9,396.4" fill="none" stroke="#ffb400" stroke-width="1.5" />
<path d="M408.3,468.0L350.4,410.1" fill="none" stroke="#ffb400" stroke-width="1.5" />
<path d="M524.0,391.3L654.4,369.1" fill="none" stroke="#6f92ff" stroke-width="1.1" />
<path d="M517.4,468.0L608.4,377.0" fill="none" stroke="#ffb400" stroke-width="1.5" />
<path d="M600.6,468.0L524.0,391.3" fill="none" stroke="#ffb400" stroke-width="1.5" />
<path d="M72.6,468.1L328.3,644.7" fill="none" stroke="#ff8a7c" stroke-width="1.05" />
<path d="M72.7,468.2L606.9,969.4" fill="none" stroke="#ff8a7c" stroke-width="1.05" />
<path d="M72.6,468.1L583.9,853.7" fill="none" stroke="#45d783" stroke-width="1.05" />
<path d="M72.6,468.0L665.3,737.1" fill="none" stroke="#88a4ff" stroke-width="1.05" />
<path d="M72.6,468.0L684.2,776.7" fill="none" stroke="#88a4ff" stroke-width="1.05" />
<path d="M435.5,831.0L798.5,468.0" fill="none" stroke="#ffb400" stroke-width="2.6" />
<path d="M665.3,737.1L809.2,593.2" fill="none" stroke="#ffb400" stroke-width="1.3" />
<path d="M583.9,853.7L814.8,622.8" fill="none" stroke="#ffb400" stroke-width="1.3" />
<path d="M606.9,969.4L844.9,731.5" fill="none" stroke="#ffb400" stroke-width="1.3" />
<path d="M224.0,619.5L375.6,468.0" fill="none" stroke="#a8c400" stroke-width="2.2" />
<path d="M328.3,644.7L394.9,578.0" fill="none" stroke="#a8c400" stroke-width="1.6" />
<path d="M375.6,468.0L1406.7,1499.1" fill="none" stroke="#a8c400" stroke-width="2.2" />
<path d="M380.0,520.2L587.8,728.0" fill="none" stroke="#a8c400" stroke-width="1.6" />
<path d="M1162.1,380.2L1199.1,380.2" fill="none" stroke="#ff7a68" stroke-width="1.1" />
<path d="M1162.1,468.0L1168.0,443.6L1174.8,418.6L1183.4,390.6L1186.8,380.2" fill="none" stroke="#ffb400" stroke-width="1.5" />
<path d="M1186.8,468.0L1178.3,441.1L1171.4,417.4L1165.5,394.5L1162.1,380.2" fill="none" stroke="#ffb400" stroke-width="1.5" />
<path d="M1223.8,415.7L1260.9,415.7" fill="none" stroke="#22cc66" stroke-width="1.1" />
<path d="M1223.8,468.0L1247.7,417.4L1248.5,415.7" fill="none" stroke="#ffb400" stroke-width="1.5" />
<path d="M1248.5,468.0L1227.2,423.3L1223.8,415.7" fill="none" stroke="#ffb400" stroke-width="1.5" />
<path d="M1285.6,425.6L1322.7,425.6" fill="none" stroke="#6f92ff" stroke-width="1.1" />
<path d="M1285.6,468.0L1310.3,425.6" fill="none" stroke="#ffb400" stroke-width="1.5" />
<path d="M1310.3,468.0L1285.6,425.6" fill="none" stroke="#ffb400" stroke-width="1.5" />
<path d="M1125.0,677.9L1186.8,677.9" fill="none" stroke="#ff8a7c" stroke-width="1.05" />
<path d="M1125.0,893.7L1186.8,893.7" fill="none" stroke="#ff8a7c" stroke-width="1.05" />
<path d="M1125.0,710.8L1248.5,710.8" fill="none" stroke="#45d783" stroke-width="1.05" />
<path d="M1125.0,589.0L1310.3,589.0" fill="none" stroke="#88a4ff" stroke-width="1.05" />
<path d="M1125.0,605.2L1310.3,605.2" fill="none" stroke="#88a4ff" stroke-width="1.05" />
<path d="M1125.0,2773.4L1125.2,1559.8L1125.7,1417.1L1126.4,1335.2L1127.2,1277.9L1128.0,1238.5L1129.0,1201.8L1130.2,1167.2L1131.2,1145.2L1132.3,1123.9L1133.6,1103.3L1135.0,1083.3L1136.5,1063.7L1138.2,1044.7L1140.2,1026.0L1142.3,1007.7L1144.6,989.6L1147.2,971.8L1150.0,954.3L1153.1,936.9L1156.5,919.6L1160.1,902.4L1164.1,885.3L1166.2,876.7L1168.3,868.2L1170.6,859.6L1172.9,851.0L1175.4,842.5L1177.9,833.9L1180.6,825.2L1183.3,816.6L1186.1,807.9L1189.0,799.2L1192.1,790.5L1195.2,781.7L1198.4,772.9L1201.8,764.0L1205.3,755.0L1208.9,746.1L1212.6,737.0L1216.4,727.9L1220.3,718.7L1224.4,709.5L1228.6,700.1L1233.0,690.7L1237.4,681.2L1242.1,671.7L1246.8,662.0L1251.7,652.2L1256.8,642.4L1261.9,632.4L1267.3,622.3L1272.8,612.1L1278.4,601.8L1284.3,591.4L1290.2,580.9L1296.4,570.2L1302.7,559.4L1309.2,548.5L1315.9,537.4L1329.7,514.9L1344.4,491.8L1359.7,468.0" fill="none" stroke="#ffb400" stroke-width="2.6" />
<path d="M1310.3,589.0L1359.7,510.4" fill="none" stroke="#ffb400" stroke-width="1.3" />
<path d="M1248.5,710.8L1263.6,681.5L1280.6,650.2L1301.3,614.1L1327.7,570.4L1359.7,520.3" fill="none" stroke="#ffb400" stroke-width="1.3" />
<path d="M1186.8,893.7L1189.7,885.1L1195.6,868.5L1201.4,852.8L1207.3,837.8L1213.2,823.4L1219.0,809.6L1224.9,796.2L1230.8,783.3L1239.5,764.7L1248.3,746.7L1257.1,729.4L1268.9,707.2L1280.6,685.8L1295.2,660.0L1309.9,635.1L1327.5,606.3L1348.0,573.9L1359.7,555.8" fill="none" stroke="#ffb400" stroke-width="1.3" />
<path d="M1125.0,2557.6L1125.2,1345.3L1125.7,1202.6L1126.4,1120.8L1127.2,1063.4L1128.0,1024.1L1129.0,987.4L1130.2,952.8L1131.1,930.8L1132.2,909.5L1133.5,888.9L1134.8,868.9L1136.4,849.4L1138.1,830.3L1140.0,811.7L1142.1,793.4L1144.4,775.4L1147.0,757.6L1149.8,740.1L1152.8,722.7L1156.1,705.5L1159.7,688.3L1163.6,671.2L1165.7,662.7L1167.8,654.2L1170.1,645.6L1172.4,637.1L1174.8,628.5L1177.3,620.0L1179.9,611.4L1182.6,602.8L1185.4,594.1L1188.3,585.4L1191.3,576.7L1194.4,568.0L1197.6,559.2L1200.9,550.3L1204.4,541.5L1207.9,532.5L1211.6,523.5L1215.4,514.4L1219.3,505.3L1223.3,496.1L1227.5,486.8L1231.8,477.4L1236.2,468.0" fill="none" stroke="#a8c400" stroke-width="2.2" />
<path d="M1186.8,677.9L1194.4,655.9L1203.2,632.2L1213.4,607.0L1226.1,577.8L1236.2,555.8" fill="none" stroke="#a8c400" stroke-width="1.6" />
<path d="M1236.2,468.0L1247.5,491.3L1260.7,517.1L1277.7,548.6L1298.4,585.1L1322.9,625.9L1354.9,676.5L1385.1,721.9" fill="none" stroke="#a8c400" stroke-width="2.2" />
<path d="M1236.2,510.4L1253.9,546.4L1276.7,589.4L1285.6,605.2" fill="none" stroke="#a8c400" stroke-width="1.6" />
<path d="M1607.3,425.8L1639.5,419.7L1674.6,414.2" fill="none" stroke="#ff7a68" stroke-width="1.1" />
<path d="M1607.3,468.0L1626.0,448.5L1653.9,417.3" fill="none" stroke="#ffb400" stroke-width="1.5" />
<path d="M1653.9,468.0L1634.0,448.9L1619.4,435.8L1609.1,427.2L1607.3,425.8" fill="none" stroke="#ffb400" stroke-width="1.5" />
<path d="M1713.2,433.1L1766.4,430.2" fill="none" stroke="#22cc66" stroke-width="1.1" />
<path d="M1713.2,468.0L1749.1,431.0" fill="none" stroke="#ffb400" stroke-width="1.5" />
<path d="M1749.1,468.0L1713.2,433.1" fill="none" stroke="#ffb400" stroke-width="1.5" />
<path d="M1799.9,436.1L1848.1,434.7" fill="none" stroke="#6f92ff" stroke-width="1.1" />
<path d="M1799.9,468.0L1832.2,435.2" fill="none" stroke="#ffb400" stroke-width="1.5" />
<path d="M1832.2,468.0L1799.9,436.1" fill="none" stroke="#ffb400" stroke-width="1.5" />
<path d="M1465.6,468.1L1488.3,487.2L1497.8,495.1L1511.3,506.0L1521.7,514.2L1530.6,520.9L1542.1,529.3L1552.3,536.3L1564.4,544.3L1575.4,551.2L1588.1,558.6L1602.0,566.1L1617.1,573.6L1635.2,581.7L1653.9,589.2" fill="none" stroke="#ff8a7c" stroke-width="1.05" />
<path d="M1465.6,468.1L1488.3,507.0L1497.8,523.0L1505.1,535.0L1511.3,545.1L1521.7,561.6L1530.6,575.3L1538.4,587.0L1545.6,597.3L1555.4,611.0L1564.4,622.9L1572.8,633.5L1580.6,643.0L1590.5,654.4L1599.8,664.6L1608.6,673.8L1619.2,684.2L1629.3,693.5L1640.9,703.5L1653.9,713.8" fill="none" stroke="#ff8a7c" stroke-width="1.05" />
<path d="M1465.6,468.1L1497.8,499.3L1511.3,512.0L1521.7,521.4L1530.6,529.2L1538.4,535.9L1545.6,541.8L1552.3,547.1L1558.5,551.9L1564.4,556.3L1570.0,560.4L1575.4,564.2L1580.6,567.8L1590.5,574.3L1599.8,580.1L1608.6,585.4L1617.1,590.2L1625.3,594.5L1633.2,598.5L1644.7,604.0L1655.7,609.0L1666.3,613.4L1680.0,618.7L1693.3,623.5L1709.4,628.7L1728.1,634.2L1749.1,639.7" fill="none" stroke="#45d783" stroke-width="1.05" />
<path d="M1465.6,468.0L1505.1,487.1L1521.7,494.6L1534.6,500.2L1545.6,504.8L1555.4,508.6L1564.4,512.0L1572.8,515.0L1580.6,517.8L1588.1,520.2L1595.2,522.5L1608.6,526.5L1621.2,530.0L1633.2,533.1L1644.7,535.8L1661.0,539.4L1676.7,542.5L1696.6,546.0L1715.7,549.1L1738.7,552.3L1769.6,555.9L1811.8,560.0L1832.2,561.7" fill="none" stroke="#88a4ff" stroke-width="1.05" />
<path d="M1465.6,468.0L1505.1,489.6L1521.7,498.2L1534.6,504.5L1545.6,509.7L1555.4,514.1L1564.4,517.9L1572.8,521.3L1580.6,524.4L1588.1,527.2L1595.2,529.8L1602.0,532.2L1615.0,536.4L1627.3,540.1L1639.0,543.4L1650.2,546.3L1661.0,549.0L1676.7,552.5L1691.7,555.6L1711.0,559.1L1734.1,562.9L1760.9,566.6L1795.1,570.7L1832.2,574.3" fill="none" stroke="#88a4ff" stroke-width="1.05" />
<path d="M1465.6,468.7L1466.7,475.8L1469.0,487.2L1471.7,498.6L1475.1,511.4L1478.2,521.8L1481.8,532.7L1485.8,544.0L1490.2,555.5L1493.4,563.3L1496.8,571.1L1500.3,578.9L1504.1,586.6L1508.1,594.2L1512.3,601.7L1516.8,609.1L1521.4,616.2L1523.8,619.7L1526.2,623.1L1528.7,626.4L1531.3,629.7L1533.9,632.9L1536.6,636.0L1539.3,639.0L1542.1,641.9L1544.9,644.7L1547.8,647.5L1550.8,650.0L1553.8,652.5L1556.9,654.9L1560.1,657.1L1563.3,659.2L1566.6,661.2L1569.9,663.0L1573.3,664.7L1576.8,666.2L1580.4,667.6L1584.0,668.8L1587.7,669.8L1591.5,670.7L1595.3,671.4L1599.2,672.0L1603.2,672.3L1607.3,672.5L1611.4,672.5L1615.7,672.3L1620.0,671.9L1624.4,671.3L1628.9,670.5L1633.5,669.5L1638.1,668.4L1642.9,667.0L1647.7,665.4L1652.7,663.5L1657.7,661.5L1662.9,659.3L1668.1,656.8L1673.5,654.1L1678.9,651.3L1684.5,648.1L1690.2,644.8L1696.0,641.3L1701.9,637.5L1707.9,633.5L1714.1,629.2L1720.3,624.8L1726.7,620.1L1733.2,615.2L1739.9,610.0L1746.7,604.7L1753.6,599.1L1760.6,593.3L1767.8,587.2L1775.2,580.9L1790.3,567.6L1806.0,553.4L1822.3,538.2L1839.4,522.1L1857.0,505.0L1875.4,487.0L1894.6,468.0" fill="none" stroke="#ffb400" stroke-width="2.6" />
<path d="M1832.2,561.7L1894.6,502.3" fill="none" stroke="#ffb400" stroke-width="1.3" />
<path d="M1749.1,639.7L1764.9,627.4L1785.5,610.5L1813.1,586.6L1852.1,551.0L1894.6,510.3" fill="none" stroke="#ffb400" stroke-width="1.3" />
<path d="M1653.9,713.8L1658.9,712.5L1663.9,711.1L1668.8,709.5L1673.6,707.7L1678.4,705.9L1683.1,703.9L1687.7,701.8L1692.3,699.6L1696.9,697.3L1701.4,695.0L1705.9,692.6L1714.8,687.5L1723.5,682.1L1732.0,676.6L1740.5,670.9L1748.8,665.0L1761.2,655.9L1773.3,646.6L1785.3,637.1L1801.0,624.1L1820.3,607.5L1843.0,587.2L1872.7,559.8L1894.6,539.1" fill="none" stroke="#ffb400" stroke-width="1.3" />
<path d="M1465.6,468.7L1466.7,474.7L1468.4,482.0L1470.2,488.4L1472.4,495.5L1475.1,502.9L1478.2,510.6L1480.5,515.8L1483.0,521.0L1485.6,526.2L1488.5,531.3L1491.6,536.4L1494.9,541.4L1498.3,546.2L1502.0,550.9L1505.9,555.3L1507.9,557.4L1510.0,559.5L1512.1,561.5L1514.2,563.4L1516.5,565.3L1518.7,567.0L1521.1,568.7L1523.4,570.3L1525.9,571.9L1528.4,573.3L1530.9,574.6L1533.5,575.8L1536.2,576.9L1538.9,577.9L1541.6,578.8L1544.5,579.5L1547.4,580.2L1550.3,580.7L1553.3,581.1L1556.4,581.3L1559.5,581.5L1562.7,581.4L1566.0,581.3L1569.3,581.0L1572.7,580.5L1576.2,579.9L1579.7,579.1L1583.3,578.2L1587.0,577.1L1590.7,575.9L1594.5,574.5L1598.4,572.9L1602.4,571.2L1606.4,569.3L1610.5,567.2L1614.7,564.9L1619.0,562.5L1623.4,559.8L1627.9,557.0L1632.4,554.1L1637.0,550.9L1641.8,547.5L1646.6,544.0L1651.5,540.3L1656.5,536.4L1661.6,532.3L1666.8,528.0L1677.6,518.8L1688.7,508.9L1700.3,498.2L1712.4,486.7L1725.0,474.4L1731.4,468.0" fill="none" stroke="#a8c400" stroke-width="2.2" />
<path d="M1653.9,589.2L1664.6,582.1L1677.2,573.3L1691.3,562.5L1710.8,546.5L1731.4,528.4" fill="none" stroke="#a8c400" stroke-width="1.6" />
<path d="M1731.4,468.0L1771.3,509.0L1925.6,677.0" fill="none" stroke="#a8c400" stroke-width="2.2" />
<path d="M1731.4,497.2L1799.9,571.2" fill="none" stroke="#a8c400" stroke-width="1.6" />
<circle cx="595.5" cy="966.8" r="2.7" fill="rgba(255,110,95,0.7)" stroke="#000" stroke-width="1.5"/>
<circle cx="551.1" cy="920.0" r="2.65" fill="rgba(255,110,95,0.7)" stroke="#ff1a00" stroke-width="1.4"/>
<circle cx="510.8" cy="877.1" r="2.65" fill="rgba(255,110,95,0.7)" stroke="#ff1a00" stroke-width="1.4"/>
<circle cx="474.4" cy="837.9" r="2.65" fill="rgba(255,110,95,0.7)" stroke="#ff1a00" stroke-width="1.4"/>
<circle cx="441.5" cy="801.8" r="2.65" fill="rgba(255,110,95,0.7)" stroke="#ff1a00" stroke-width="1.4"/>
<circle cx="411.9" cy="768.7" r="2.65" fill="rgba(255,110,95,0.7)" stroke="#ff1a00" stroke-width="1.4"/>
<circle cx="385.2" cy="738.2" r="2.65" fill="rgba(255,110,95,0.7)" stroke="#ff1a00" stroke-width="1.4"/>
<circle cx="361.3" cy="710.1" r="2.65" fill="rgba(255,110,95,0.7)" stroke="#ff1a00" stroke-width="1.4"/>
<circle cx="339.8" cy="684.1" r="2.65" fill="rgba(255,110,95,0.7)" stroke="#ff1a00" stroke-width="1.4"/>
<circle cx="320.8" cy="660.0" r="2.65" fill="rgba(255,110,95,0.7)" stroke="#ff1a00" stroke-width="1.4"/>
<circle cx="303.9" cy="637.6" r="2.7" fill="rgba(255,110,95,0.7)" stroke="#000" stroke-width="1.5"/>
<circle cx="289.0" cy="616.7" r="2.65" fill="rgba(255,110,95,0.7)" stroke="#ff1a00" stroke-width="1.4"/>
<circle cx="276.0" cy="597.1" r="2.65" fill="rgba(255,110,95,0.7)" stroke="#ff1a00" stroke-width="1.4"/>
<circle cx="264.8" cy="578.6" r="2.65" fill="rgba(255,110,95,0.7)" stroke="#ff1a00" stroke-width="1.4"/>
<circle cx="255.3" cy="561.0" r="2.65" fill="rgba(255,110,95,0.7)" stroke="#ff1a00" stroke-width="1.4"/>
<circle cx="247.4" cy="544.3" r="2.65" fill="rgba(255,110,95,0.7)" stroke="#ff1a00" stroke-width="1.4"/>
<circle cx="241.0" cy="528.3" r="2.65" fill="rgba(255,110,95,0.7)" stroke="#ff1a00" stroke-width="1.4"/>
<circle cx="236.1" cy="512.7" r="2.65" fill="rgba(255,110,95,0.7)" stroke="#ff1a00" stroke-width="1.4"/>
<circle cx="232.6" cy="497.6" r="2.65" fill="rgba(255,110,95,0.7)" stroke="#ff1a00" stroke-width="1.4"/>
<circle cx="230.5" cy="482.7" r="2.65" fill="rgba(255,110,95,0.7)" stroke="#ff1a00" stroke-width="1.4"/>
<circle cx="229.9" cy="468.0" r="2.7" fill="rgba(255,110,95,0.7)" stroke="#000" stroke-width="1.5"/>
<circle cx="230.5" cy="453.3" r="2.65" fill="rgba(255,110,95,0.7)" stroke="#ff1a00" stroke-width="1.4"/>
<circle cx="232.6" cy="438.4" r="2.65" fill="rgba(255,110,95,0.7)" stroke="#ff1a00" stroke-width="1.4"/>
<circle cx="236.1" cy="423.3" r="2.65" fill="rgba(255,110,95,0.7)" stroke="#ff1a00" stroke-width="1.4"/>
<circle cx="241.0" cy="407.7" r="2.65" fill="rgba(255,110,95,0.7)" stroke="#ff1a00" stroke-width="1.4"/>
<circle cx="247.4" cy="391.7" r="2.65" fill="rgba(255,110,95,0.7)" stroke="#ff1a00" stroke-width="1.4"/>
<circle cx="255.3" cy="375.0" r="2.65" fill="rgba(255,110,95,0.7)" stroke="#ff1a00" stroke-width="1.4"/>
<circle cx="264.8" cy="357.4" r="2.65" fill="rgba(255,110,95,0.7)" stroke="#ff1a00" stroke-width="1.4"/>
<circle cx="276.0" cy="338.9" r="2.65" fill="rgba(255,110,95,0.7)" stroke="#ff1a00" stroke-width="1.4"/>
<circle cx="289.0" cy="319.3" r="2.65" fill="rgba(255,110,95,0.7)" stroke="#ff1a00" stroke-width="1.4"/>
<circle cx="303.9" cy="298.4" r="2.7" fill="rgba(255,110,95,0.7)" stroke="#000" stroke-width="1.5"/>
<circle cx="673.8" cy="987.3" r="2.65" fill="rgba(70,165,110,0.65)" stroke="#0a7a3c" stroke-width="1.4"/>
<circle cx="637.6" cy="945.0" r="2.65" fill="rgba(70,165,110,0.65)" stroke="#0a7a3c" stroke-width="1.4"/>
<circle cx="604.4" cy="905.1" r="2.65" fill="rgba(70,165,110,0.65)" stroke="#0a7a3c" stroke-width="1.4"/>
<circle cx="574.0" cy="867.6" r="2.65" fill="rgba(70,165,110,0.65)" stroke="#0a7a3c" stroke-width="1.4"/>
<circle cx="546.3" cy="832.2" r="2.65" fill="rgba(70,165,110,0.65)" stroke="#0a7a3c" stroke-width="1.4"/>
<circle cx="521.1" cy="798.7" r="2.65" fill="rgba(70,165,110,0.65)" stroke="#0a7a3c" stroke-width="1.4"/>
<circle cx="498.2" cy="767.0" r="2.65" fill="rgba(70,165,110,0.65)" stroke="#0a7a3c" stroke-width="1.4"/>
<circle cx="477.6" cy="736.8" r="2.65" fill="rgba(70,165,110,0.65)" stroke="#0a7a3c" stroke-width="1.4"/>
<circle cx="459.1" cy="708.1" r="2.7" fill="rgba(70,165,110,0.65)" stroke="#000" stroke-width="1.5"/>
<circle cx="442.7" cy="680.6" r="2.65" fill="rgba(70,165,110,0.65)" stroke="#0a7a3c" stroke-width="1.4"/>
<circle cx="428.2" cy="654.2" r="2.65" fill="rgba(70,165,110,0.65)" stroke="#0a7a3c" stroke-width="1.4"/>
<circle cx="415.6" cy="628.9" r="2.65" fill="rgba(70,165,110,0.65)" stroke="#0a7a3c" stroke-width="1.4"/>
<circle cx="404.8" cy="604.3" r="2.65" fill="rgba(70,165,110,0.65)" stroke="#0a7a3c" stroke-width="1.4"/>
<circle cx="395.8" cy="580.5" r="2.65" fill="rgba(70,165,110,0.65)" stroke="#0a7a3c" stroke-width="1.4"/>
<circle cx="388.5" cy="557.3" r="2.65" fill="rgba(70,165,110,0.65)" stroke="#0a7a3c" stroke-width="1.4"/>
<circle cx="382.8" cy="534.6" r="2.65" fill="rgba(70,165,110,0.65)" stroke="#0a7a3c" stroke-width="1.4"/>
<circle cx="378.8" cy="512.2" r="2.65" fill="rgba(70,165,110,0.65)" stroke="#0a7a3c" stroke-width="1.4"/>
<circle cx="376.4" cy="490.0" r="2.65" fill="rgba(70,165,110,0.65)" stroke="#0a7a3c" stroke-width="1.4"/>
<circle cx="375.6" cy="468.0" r="2.7" fill="rgba(70,165,110,0.65)" stroke="#000" stroke-width="1.5"/>
<circle cx="376.4" cy="446.0" r="2.65" fill="rgba(70,165,110,0.65)" stroke="#0a7a3c" stroke-width="1.4"/>
<circle cx="378.8" cy="423.8" r="2.65" fill="rgba(70,165,110,0.65)" stroke="#0a7a3c" stroke-width="1.4"/>
<circle cx="382.8" cy="401.4" r="2.65" fill="rgba(70,165,110,0.65)" stroke="#0a7a3c" stroke-width="1.4"/>
<circle cx="388.5" cy="378.7" r="2.65" fill="rgba(70,165,110,0.65)" stroke="#0a7a3c" stroke-width="1.4"/>
<circle cx="395.8" cy="355.5" r="2.65" fill="rgba(70,165,110,0.65)" stroke="#0a7a3c" stroke-width="1.4"/>
<circle cx="404.8" cy="331.7" r="2.65" fill="rgba(70,165,110,0.65)" stroke="#0a7a3c" stroke-width="1.4"/>
<circle cx="415.6" cy="307.1" r="2.65" fill="rgba(70,165,110,0.65)" stroke="#0a7a3c" stroke-width="1.4"/>
<circle cx="428.2" cy="281.8" r="2.65" fill="rgba(70,165,110,0.65)" stroke="#0a7a3c" stroke-width="1.4"/>
<circle cx="442.7" cy="255.4" r="2.65" fill="rgba(70,165,110,0.65)" stroke="#0a7a3c" stroke-width="1.4"/>
<circle cx="459.1" cy="227.9" r="2.7" fill="rgba(70,165,110,0.65)" stroke="#000" stroke-width="1.5"/>
<circle cx="776.4" cy="977.8" r="2.65" fill="rgba(110,150,255,0.65)" stroke="#1a4dff" stroke-width="1.4"/>
<circle cx="744.5" cy="932.8" r="2.65" fill="rgba(110,150,255,0.65)" stroke="#1a4dff" stroke-width="1.4"/>
<circle cx="715.5" cy="889.7" r="2.65" fill="rgba(110,150,255,0.65)" stroke="#1a4dff" stroke-width="1.4"/>
<circle cx="689.2" cy="848.5" r="2.65" fill="rgba(110,150,255,0.65)" stroke="#1a4dff" stroke-width="1.4"/>
<circle cx="665.6" cy="808.9" r="2.7" fill="rgba(110,150,255,0.65)" stroke="#000" stroke-width="1.5"/>
<circle cx="644.6" cy="770.8" r="2.65" fill="rgba(110,150,255,0.65)" stroke="#1a4dff" stroke-width="1.4"/>
<circle cx="626.0" cy="734.0" r="2.65" fill="rgba(110,150,255,0.65)" stroke="#1a4dff" stroke-width="1.4"/>
<circle cx="609.7" cy="698.3" r="2.65" fill="rgba(110,150,255,0.65)" stroke="#1a4dff" stroke-width="1.4"/>
<circle cx="595.8" cy="663.6" r="2.65" fill="rgba(110,150,255,0.65)" stroke="#1a4dff" stroke-width="1.4"/>
<circle cx="584.1" cy="629.7" r="2.65" fill="rgba(110,150,255,0.65)" stroke="#1a4dff" stroke-width="1.4"/>
<circle cx="574.6" cy="596.6" r="2.65" fill="rgba(110,150,255,0.65)" stroke="#1a4dff" stroke-width="1.4"/>
<circle cx="567.2" cy="563.9" r="2.65" fill="rgba(110,150,255,0.65)" stroke="#1a4dff" stroke-width="1.4"/>
<circle cx="562.0" cy="531.7" r="2.65" fill="rgba(110,150,255,0.65)" stroke="#1a4dff" stroke-width="1.4"/>
<circle cx="558.9" cy="499.8" r="2.65" fill="rgba(110,150,255,0.65)" stroke="#1a4dff" stroke-width="1.4"/>
<circle cx="557.9" cy="468.0" r="2.7" fill="rgba(110,150,255,0.65)" stroke="#000" stroke-width="1.5"/>
<circle cx="558.9" cy="436.2" r="2.65" fill="rgba(110,150,255,0.65)" stroke="#1a4dff" stroke-width="1.4"/>
<circle cx="562.0" cy="404.3" r="2.65" fill="rgba(110,150,255,0.65)" stroke="#1a4dff" stroke-width="1.4"/>
<circle cx="567.2" cy="372.1" r="2.65" fill="rgba(110,150,255,0.65)" stroke="#1a4dff" stroke-width="1.4"/>
<circle cx="574.6" cy="339.4" r="2.65" fill="rgba(110,150,255,0.65)" stroke="#1a4dff" stroke-width="1.4"/>
<circle cx="584.1" cy="306.3" r="2.65" fill="rgba(110,150,255,0.65)" stroke="#1a4dff" stroke-width="1.4"/>
<circle cx="595.8" cy="272.4" r="2.65" fill="rgba(110,150,255,0.65)" stroke="#1a4dff" stroke-width="1.4"/>
<circle cx="609.7" cy="237.7" r="2.65" fill="rgba(110,150,255,0.65)" stroke="#1a4dff" stroke-width="1.4"/>
<circle cx="626.0" cy="202.0" r="2.65" fill="rgba(110,150,255,0.65)" stroke="#1a4dff" stroke-width="1.4"/>
<circle cx="644.6" cy="165.2" r="2.65" fill="rgba(110,150,255,0.65)" stroke="#1a4dff" stroke-width="1.4"/>
<circle cx="665.6" cy="127.1" r="2.7" fill="rgba(110,150,255,0.65)" stroke="#000" stroke-width="1.5"/>
<circle cx="891.2" cy="846.3" r="2.7" fill="rgba(160,160,160,0.65)" stroke="#000" stroke-width="1.5"/>
<circle cx="873.3" cy="805.8" r="2.65" fill="rgba(160,160,160,0.65)" stroke="#6e6e6e" stroke-width="1.4"/>
<circle cx="857.4" cy="766.2" r="2.65" fill="rgba(160,160,160,0.65)" stroke="#6e6e6e" stroke-width="1.4"/>
<circle cx="843.4" cy="727.3" r="2.65" fill="rgba(160,160,160,0.65)" stroke="#6e6e6e" stroke-width="1.4"/>
<circle cx="831.4" cy="689.1" r="2.65" fill="rgba(160,160,160,0.65)" stroke="#6e6e6e" stroke-width="1.4"/>
<circle cx="821.3" cy="651.4" r="2.65" fill="rgba(160,160,160,0.65)" stroke="#6e6e6e" stroke-width="1.4"/>
<circle cx="813.1" cy="614.2" r="2.65" fill="rgba(160,160,160,0.65)" stroke="#6e6e6e" stroke-width="1.4"/>
<circle cx="806.7" cy="577.3" r="2.65" fill="rgba(160,160,160,0.65)" stroke="#6e6e6e" stroke-width="1.4"/>
<circle cx="802.1" cy="540.7" r="2.65" fill="rgba(160,160,160,0.65)" stroke="#6e6e6e" stroke-width="1.4"/>
<circle cx="799.4" cy="504.3" r="2.65" fill="rgba(160,160,160,0.65)" stroke="#6e6e6e" stroke-width="1.4"/>
<circle cx="798.5" cy="468.0" r="2.7" fill="rgba(160,160,160,0.65)" stroke="#000" stroke-width="1.5"/>
<circle cx="799.4" cy="431.7" r="2.65" fill="rgba(160,160,160,0.65)" stroke="#6e6e6e" stroke-width="1.4"/>
<circle cx="802.1" cy="395.3" r="2.65" fill="rgba(160,160,160,0.65)" stroke="#6e6e6e" stroke-width="1.4"/>
<circle cx="806.7" cy="358.7" r="2.65" fill="rgba(160,160,160,0.65)" stroke="#6e6e6e" stroke-width="1.4"/>
<circle cx="813.1" cy="321.8" r="2.65" fill="rgba(160,160,160,0.65)" stroke="#6e6e6e" stroke-width="1.4"/>
<circle cx="821.3" cy="284.6" r="2.65" fill="rgba(160,160,160,0.65)" stroke="#6e6e6e" stroke-width="1.4"/>
<circle cx="831.4" cy="246.9" r="2.65" fill="rgba(160,160,160,0.65)" stroke="#6e6e6e" stroke-width="1.4"/>
<circle cx="843.4" cy="208.7" r="2.65" fill="rgba(160,160,160,0.65)" stroke="#6e6e6e" stroke-width="1.4"/>
<circle cx="857.4" cy="169.8" r="2.65" fill="rgba(160,160,160,0.65)" stroke="#6e6e6e" stroke-width="1.4"/>
<circle cx="873.3" cy="130.2" r="2.65" fill="rgba(160,160,160,0.65)" stroke="#6e6e6e" stroke-width="1.4"/>
<circle cx="891.2" cy="89.7" r="2.7" fill="rgba(160,160,160,0.65)" stroke="#000" stroke-width="1.5"/>
<circle cx="1174.4" cy="930.3" r="2.7" fill="rgba(255,110,95,0.7)" stroke="#000" stroke-width="1.5"/>
<circle cx="1174.4" cy="907.2" r="2.65" fill="rgba(255,110,95,0.7)" stroke="#ff1a00" stroke-width="1.4"/>
<circle cx="1174.4" cy="884.1" r="2.65" fill="rgba(255,110,95,0.7)" stroke="#ff1a00" stroke-width="1.4"/>
<circle cx="1174.4" cy="860.9" r="2.65" fill="rgba(255,110,95,0.7)" stroke="#ff1a00" stroke-width="1.4"/>
<circle cx="1174.4" cy="837.8" r="2.65" fill="rgba(255,110,95,0.7)" stroke="#ff1a00" stroke-width="1.4"/>
<circle cx="1174.4" cy="814.7" r="2.65" fill="rgba(255,110,95,0.7)" stroke="#ff1a00" stroke-width="1.4"/>
<circle cx="1174.4" cy="791.6" r="2.65" fill="rgba(255,110,95,0.7)" stroke="#ff1a00" stroke-width="1.4"/>
<circle cx="1174.4" cy="768.5" r="2.65" fill="rgba(255,110,95,0.7)" stroke="#ff1a00" stroke-width="1.4"/>
<circle cx="1174.4" cy="745.4" r="2.65" fill="rgba(255,110,95,0.7)" stroke="#ff1a00" stroke-width="1.4"/>
<circle cx="1174.4" cy="722.3" r="2.65" fill="rgba(255,110,95,0.7)" stroke="#ff1a00" stroke-width="1.4"/>
<circle cx="1174.4" cy="699.1" r="2.7" fill="rgba(255,110,95,0.7)" stroke="#000" stroke-width="1.5"/>
<circle cx="1174.4" cy="676.0" r="2.65" fill="rgba(255,110,95,0.7)" stroke="#ff1a00" stroke-width="1.4"/>
<circle cx="1174.4" cy="652.9" r="2.65" fill="rgba(255,110,95,0.7)" stroke="#ff1a00" stroke-width="1.4"/>
<circle cx="1174.4" cy="629.8" r="2.65" fill="rgba(255,110,95,0.7)" stroke="#ff1a00" stroke-width="1.4"/>
<circle cx="1174.4" cy="606.7" r="2.65" fill="rgba(255,110,95,0.7)" stroke="#ff1a00" stroke-width="1.4"/>
<circle cx="1174.4" cy="583.6" r="2.65" fill="rgba(255,110,95,0.7)" stroke="#ff1a00" stroke-width="1.4"/>
<circle cx="1174.4" cy="560.5" r="2.65" fill="rgba(255,110,95,0.7)" stroke="#ff1a00" stroke-width="1.4"/>
<circle cx="1174.4" cy="537.3" r="2.65" fill="rgba(255,110,95,0.7)" stroke="#ff1a00" stroke-width="1.4"/>
<circle cx="1174.4" cy="514.2" r="2.65" fill="rgba(255,110,95,0.7)" stroke="#ff1a00" stroke-width="1.4"/>
<circle cx="1174.4" cy="491.1" r="2.65" fill="rgba(255,110,95,0.7)" stroke="#ff1a00" stroke-width="1.4"/>
<circle cx="1174.4" cy="468.0" r="2.7" fill="rgba(255,110,95,0.7)" stroke="#000" stroke-width="1.5"/>
<circle cx="1174.4" cy="444.9" r="2.65" fill="rgba(255,110,95,0.7)" stroke="#ff1a00" stroke-width="1.4"/>
<circle cx="1174.4" cy="421.8" r="2.65" fill="rgba(255,110,95,0.7)" stroke="#ff1a00" stroke-width="1.4"/>
<circle cx="1174.4" cy="398.7" r="2.65" fill="rgba(255,110,95,0.7)" stroke="#ff1a00" stroke-width="1.4"/>
<circle cx="1174.4" cy="375.5" r="2.65" fill="rgba(255,110,95,0.7)" stroke="#ff1a00" stroke-width="1.4"/>
<circle cx="1174.4" cy="352.4" r="2.65" fill="rgba(255,110,95,0.7)" stroke="#ff1a00" stroke-width="1.4"/>
<circle cx="1174.4" cy="329.3" r="2.65" fill="rgba(255,110,95,0.7)" stroke="#ff1a00" stroke-width="1.4"/>
<circle cx="1174.4" cy="306.2" r="2.65" fill="rgba(255,110,95,0.7)" stroke="#ff1a00" stroke-width="1.4"/>
<circle cx="1174.4" cy="283.1" r="2.65" fill="rgba(255,110,95,0.7)" stroke="#ff1a00" stroke-width="1.4"/>
<circle cx="1174.4" cy="260.0" r="2.65" fill="rgba(255,110,95,0.7)" stroke="#ff1a00" stroke-width="1.4"/>
<circle cx="1174.4" cy="236.9" r="2.7" fill="rgba(255,110,95,0.7)" stroke="#000" stroke-width="1.5"/>
<circle cx="1236.2" cy="827.0" r="2.7" fill="rgba(70,165,110,0.65)" stroke="#000" stroke-width="1.5"/>
<circle cx="1236.2" cy="809.1" r="2.65" fill="rgba(70,165,110,0.65)" stroke="#0a7a3c" stroke-width="1.4"/>
<circle cx="1236.2" cy="791.1" r="2.65" fill="rgba(70,165,110,0.65)" stroke="#0a7a3c" stroke-width="1.4"/>
<circle cx="1236.2" cy="773.2" r="2.65" fill="rgba(70,165,110,0.65)" stroke="#0a7a3c" stroke-width="1.4"/>
<circle cx="1236.2" cy="755.2" r="2.65" fill="rgba(70,165,110,0.65)" stroke="#0a7a3c" stroke-width="1.4"/>
<circle cx="1236.2" cy="737.3" r="2.65" fill="rgba(70,165,110,0.65)" stroke="#0a7a3c" stroke-width="1.4"/>
<circle cx="1236.2" cy="719.3" r="2.65" fill="rgba(70,165,110,0.65)" stroke="#0a7a3c" stroke-width="1.4"/>
<circle cx="1236.2" cy="701.4" r="2.65" fill="rgba(70,165,110,0.65)" stroke="#0a7a3c" stroke-width="1.4"/>
<circle cx="1236.2" cy="683.4" r="2.65" fill="rgba(70,165,110,0.65)" stroke="#0a7a3c" stroke-width="1.4"/>
<circle cx="1236.2" cy="665.5" r="2.65" fill="rgba(70,165,110,0.65)" stroke="#0a7a3c" stroke-width="1.4"/>
<circle cx="1236.2" cy="647.5" r="2.7" fill="rgba(70,165,110,0.65)" stroke="#000" stroke-width="1.5"/>
<circle cx="1236.2" cy="629.6" r="2.65" fill="rgba(70,165,110,0.65)" stroke="#0a7a3c" stroke-width="1.4"/>
<circle cx="1236.2" cy="611.6" r="2.65" fill="rgba(70,165,110,0.65)" stroke="#0a7a3c" stroke-width="1.4"/>
<circle cx="1236.2" cy="593.7" r="2.65" fill="rgba(70,165,110,0.65)" stroke="#0a7a3c" stroke-width="1.4"/>
<circle cx="1236.2" cy="575.7" r="2.65" fill="rgba(70,165,110,0.65)" stroke="#0a7a3c" stroke-width="1.4"/>
<circle cx="1236.2" cy="557.8" r="2.65" fill="rgba(70,165,110,0.65)" stroke="#0a7a3c" stroke-width="1.4"/>
<circle cx="1236.2" cy="539.8" r="2.65" fill="rgba(70,165,110,0.65)" stroke="#0a7a3c" stroke-width="1.4"/>
<circle cx="1236.2" cy="521.9" r="2.65" fill="rgba(70,165,110,0.65)" stroke="#0a7a3c" stroke-width="1.4"/>
<circle cx="1236.2" cy="503.9" r="2.65" fill="rgba(70,165,110,0.65)" stroke="#0a7a3c" stroke-width="1.4"/>
<circle cx="1236.2" cy="486.0" r="2.65" fill="rgba(70,165,110,0.65)" stroke="#0a7a3c" stroke-width="1.4"/>
<circle cx="1236.2" cy="468.0" r="2.7" fill="rgba(70,165,110,0.65)" stroke="#000" stroke-width="1.5"/>
<circle cx="1236.2" cy="450.0" r="2.65" fill="rgba(70,165,110,0.65)" stroke="#0a7a3c" stroke-width="1.4"/>
<circle cx="1236.2" cy="432.1" r="2.65" fill="rgba(70,165,110,0.65)" stroke="#0a7a3c" stroke-width="1.4"/>
<circle cx="1236.2" cy="414.1" r="2.65" fill="rgba(70,165,110,0.65)" stroke="#0a7a3c" stroke-width="1.4"/>
<circle cx="1236.2" cy="396.2" r="2.65" fill="rgba(70,165,110,0.65)" stroke="#0a7a3c" stroke-width="1.4"/>
<circle cx="1236.2" cy="378.2" r="2.65" fill="rgba(70,165,110,0.65)" stroke="#0a7a3c" stroke-width="1.4"/>
<circle cx="1236.2" cy="360.3" r="2.65" fill="rgba(70,165,110,0.65)" stroke="#0a7a3c" stroke-width="1.4"/>
<circle cx="1236.2" cy="342.3" r="2.65" fill="rgba(70,165,110,0.65)" stroke="#0a7a3c" stroke-width="1.4"/>
<circle cx="1236.2" cy="324.4" r="2.65" fill="rgba(70,165,110,0.65)" stroke="#0a7a3c" stroke-width="1.4"/>
<circle cx="1236.2" cy="306.4" r="2.65" fill="rgba(70,165,110,0.65)" stroke="#0a7a3c" stroke-width="1.4"/>
<circle cx="1236.2" cy="288.5" r="2.7" fill="rgba(70,165,110,0.65)" stroke="#000" stroke-width="1.5"/>
<circle cx="1298.0" cy="791.5" r="2.7" fill="rgba(110,150,255,0.65)" stroke="#000" stroke-width="1.5"/>
<circle cx="1298.0" cy="775.4" r="2.65" fill="rgba(110,150,255,0.65)" stroke="#1a4dff" stroke-width="1.4"/>
<circle cx="1298.0" cy="759.2" r="2.65" fill="rgba(110,150,255,0.65)" stroke="#1a4dff" stroke-width="1.4"/>
<circle cx="1298.0" cy="743.0" r="2.65" fill="rgba(110,150,255,0.65)" stroke="#1a4dff" stroke-width="1.4"/>
<circle cx="1298.0" cy="726.8" r="2.65" fill="rgba(110,150,255,0.65)" stroke="#1a4dff" stroke-width="1.4"/>
<circle cx="1298.0" cy="710.6" r="2.65" fill="rgba(110,150,255,0.65)" stroke="#1a4dff" stroke-width="1.4"/>
<circle cx="1298.0" cy="694.5" r="2.65" fill="rgba(110,150,255,0.65)" stroke="#1a4dff" stroke-width="1.4"/>
<circle cx="1298.0" cy="678.3" r="2.65" fill="rgba(110,150,255,0.65)" stroke="#1a4dff" stroke-width="1.4"/>
<circle cx="1298.0" cy="662.1" r="2.65" fill="rgba(110,150,255,0.65)" stroke="#1a4dff" stroke-width="1.4"/>
<circle cx="1298.0" cy="645.9" r="2.65" fill="rgba(110,150,255,0.65)" stroke="#1a4dff" stroke-width="1.4"/>
<circle cx="1298.0" cy="629.8" r="2.7" fill="rgba(110,150,255,0.65)" stroke="#000" stroke-width="1.5"/>
<circle cx="1298.0" cy="613.6" r="2.65" fill="rgba(110,150,255,0.65)" stroke="#1a4dff" stroke-width="1.4"/>
<circle cx="1298.0" cy="597.4" r="2.65" fill="rgba(110,150,255,0.65)" stroke="#1a4dff" stroke-width="1.4"/>
<circle cx="1298.0" cy="581.2" r="2.65" fill="rgba(110,150,255,0.65)" stroke="#1a4dff" stroke-width="1.4"/>
<circle cx="1298.0" cy="565.1" r="2.65" fill="rgba(110,150,255,0.65)" stroke="#1a4dff" stroke-width="1.4"/>
<circle cx="1298.0" cy="548.9" r="2.65" fill="rgba(110,150,255,0.65)" stroke="#1a4dff" stroke-width="1.4"/>
<circle cx="1298.0" cy="532.7" r="2.65" fill="rgba(110,150,255,0.65)" stroke="#1a4dff" stroke-width="1.4"/>
<circle cx="1298.0" cy="516.5" r="2.65" fill="rgba(110,150,255,0.65)" stroke="#1a4dff" stroke-width="1.4"/>
<circle cx="1298.0" cy="500.4" r="2.65" fill="rgba(110,150,255,0.65)" stroke="#1a4dff" stroke-width="1.4"/>
<circle cx="1298.0" cy="484.2" r="2.65" fill="rgba(110,150,255,0.65)" stroke="#1a4dff" stroke-width="1.4"/>
<circle cx="1298.0" cy="468.0" r="2.7" fill="rgba(110,150,255,0.65)" stroke="#000" stroke-width="1.5"/>
<circle cx="1298.0" cy="451.8" r="2.65" fill="rgba(110,150,255,0.65)" stroke="#1a4dff" stroke-width="1.4"/>
<circle cx="1298.0" cy="435.6" r="2.65" fill="rgba(110,150,255,0.65)" stroke="#1a4dff" stroke-width="1.4"/>
<circle cx="1298.0" cy="419.5" r="2.65" fill="rgba(110,150,255,0.65)" stroke="#1a4dff" stroke-width="1.4"/>
<circle cx="1298.0" cy="403.3" r="2.65" fill="rgba(110,150,255,0.65)" stroke="#1a4dff" stroke-width="1.4"/>
<circle cx="1298.0" cy="387.1" r="2.65" fill="rgba(110,150,255,0.65)" stroke="#1a4dff" stroke-width="1.4"/>
<circle cx="1298.0" cy="370.9" r="2.65" fill="rgba(110,150,255,0.65)" stroke="#1a4dff" stroke-width="1.4"/>
<circle cx="1298.0" cy="354.8" r="2.65" fill="rgba(110,150,255,0.65)" stroke="#1a4dff" stroke-width="1.4"/>
<circle cx="1298.0" cy="338.6" r="2.65" fill="rgba(110,150,255,0.65)" stroke="#1a4dff" stroke-width="1.4"/>
<circle cx="1298.0" cy="322.4" r="2.65" fill="rgba(110,150,255,0.65)" stroke="#1a4dff" stroke-width="1.4"/>
<circle cx="1298.0" cy="306.2" r="2.7" fill="rgba(110,150,255,0.65)" stroke="#000" stroke-width="1.5"/>
<circle cx="1359.7" cy="591.5" r="2.7" fill="rgba(160,160,160,0.65)" stroke="#000" stroke-width="1.5"/>
<circle cx="1359.7" cy="579.2" r="2.65" fill="rgba(160,160,160,0.65)" stroke="#6e6e6e" stroke-width="1.4"/>
<circle cx="1359.7" cy="566.8" r="2.65" fill="rgba(160,160,160,0.65)" stroke="#6e6e6e" stroke-width="1.4"/>
<circle cx="1359.7" cy="554.5" r="2.65" fill="rgba(160,160,160,0.65)" stroke="#6e6e6e" stroke-width="1.4"/>
<circle cx="1359.7" cy="542.1" r="2.65" fill="rgba(160,160,160,0.65)" stroke="#6e6e6e" stroke-width="1.4"/>
<circle cx="1359.7" cy="529.8" r="2.65" fill="rgba(160,160,160,0.65)" stroke="#6e6e6e" stroke-width="1.4"/>
<circle cx="1359.7" cy="517.4" r="2.65" fill="rgba(160,160,160,0.65)" stroke="#6e6e6e" stroke-width="1.4"/>
<circle cx="1359.7" cy="505.1" r="2.65" fill="rgba(160,160,160,0.65)" stroke="#6e6e6e" stroke-width="1.4"/>
<circle cx="1359.7" cy="492.7" r="2.65" fill="rgba(160,160,160,0.65)" stroke="#6e6e6e" stroke-width="1.4"/>
<circle cx="1359.7" cy="480.4" r="2.65" fill="rgba(160,160,160,0.65)" stroke="#6e6e6e" stroke-width="1.4"/>
<circle cx="1359.7" cy="468.0" r="2.7" fill="rgba(160,160,160,0.65)" stroke="#000" stroke-width="1.5"/>
<circle cx="1359.7" cy="455.6" r="2.65" fill="rgba(160,160,160,0.65)" stroke="#6e6e6e" stroke-width="1.4"/>
<circle cx="1359.7" cy="443.3" r="2.65" fill="rgba(160,160,160,0.65)" stroke="#6e6e6e" stroke-width="1.4"/>
<circle cx="1359.7" cy="430.9" r="2.65" fill="rgba(160,160,160,0.65)" stroke="#6e6e6e" stroke-width="1.4"/>
<circle cx="1359.7" cy="418.6" r="2.65" fill="rgba(160,160,160,0.65)" stroke="#6e6e6e" stroke-width="1.4"/>
<circle cx="1359.7" cy="406.2" r="2.65" fill="rgba(160,160,160,0.65)" stroke="#6e6e6e" stroke-width="1.4"/>
<circle cx="1359.7" cy="393.9" r="2.65" fill="rgba(160,160,160,0.65)" stroke="#6e6e6e" stroke-width="1.4"/>
<circle cx="1359.7" cy="381.5" r="2.65" fill="rgba(160,160,160,0.65)" stroke="#6e6e6e" stroke-width="1.4"/>
<circle cx="1359.7" cy="369.2" r="2.65" fill="rgba(160,160,160,0.65)" stroke="#6e6e6e" stroke-width="1.4"/>
<circle cx="1359.7" cy="356.8" r="2.65" fill="rgba(160,160,160,0.65)" stroke="#6e6e6e" stroke-width="1.4"/>
<circle cx="1359.7" cy="344.4" r="2.7" fill="rgba(160,160,160,0.65)" stroke="#000" stroke-width="1.5"/>
<circle cx="1631.6" cy="715.1" r="2.7" fill="rgba(255,110,95,0.7)" stroke="#000" stroke-width="1.5"/>
<circle cx="1631.6" cy="702.7" r="2.65" fill="rgba(255,110,95,0.7)" stroke="#ff1a00" stroke-width="1.4"/>
<circle cx="1631.6" cy="690.4" r="2.65" fill="rgba(255,110,95,0.7)" stroke="#ff1a00" stroke-width="1.4"/>
<circle cx="1631.6" cy="678.0" r="2.65" fill="rgba(255,110,95,0.7)" stroke="#ff1a00" stroke-width="1.4"/>
<circle cx="1631.6" cy="665.7" r="2.65" fill="rgba(255,110,95,0.7)" stroke="#ff1a00" stroke-width="1.4"/>
<circle cx="1631.6" cy="653.3" r="2.65" fill="rgba(255,110,95,0.7)" stroke="#ff1a00" stroke-width="1.4"/>
<circle cx="1631.6" cy="641.0" r="2.65" fill="rgba(255,110,95,0.7)" stroke="#ff1a00" stroke-width="1.4"/>
<circle cx="1631.6" cy="628.6" r="2.65" fill="rgba(255,110,95,0.7)" stroke="#ff1a00" stroke-width="1.4"/>
<circle cx="1631.6" cy="616.3" r="2.65" fill="rgba(255,110,95,0.7)" stroke="#ff1a00" stroke-width="1.4"/>
<circle cx="1631.6" cy="603.9" r="2.65" fill="rgba(255,110,95,0.7)" stroke="#ff1a00" stroke-width="1.4"/>
<circle cx="1631.6" cy="591.5" r="2.7" fill="rgba(255,110,95,0.7)" stroke="#000" stroke-width="1.5"/>
<circle cx="1631.6" cy="579.2" r="2.65" fill="rgba(255,110,95,0.7)" stroke="#ff1a00" stroke-width="1.4"/>
<circle cx="1631.6" cy="566.8" r="2.65" fill="rgba(255,110,95,0.7)" stroke="#ff1a00" stroke-width="1.4"/>
<circle cx="1631.6" cy="554.5" r="2.65" fill="rgba(255,110,95,0.7)" stroke="#ff1a00" stroke-width="1.4"/>
<circle cx="1631.6" cy="542.1" r="2.65" fill="rgba(255,110,95,0.7)" stroke="#ff1a00" stroke-width="1.4"/>
<circle cx="1631.6" cy="529.8" r="2.65" fill="rgba(255,110,95,0.7)" stroke="#ff1a00" stroke-width="1.4"/>
<circle cx="1631.6" cy="517.4" r="2.65" fill="rgba(255,110,95,0.7)" stroke="#ff1a00" stroke-width="1.4"/>
<circle cx="1631.6" cy="505.1" r="2.65" fill="rgba(255,110,95,0.7)" stroke="#ff1a00" stroke-width="1.4"/>
<circle cx="1631.6" cy="492.7" r="2.65" fill="rgba(255,110,95,0.7)" stroke="#ff1a00" stroke-width="1.4"/>
<circle cx="1631.6" cy="480.4" r="2.65" fill="rgba(255,110,95,0.7)" stroke="#ff1a00" stroke-width="1.4"/>
<circle cx="1631.6" cy="468.0" r="2.7" fill="rgba(255,110,95,0.7)" stroke="#000" stroke-width="1.5"/>
<circle cx="1631.6" cy="455.6" r="2.65" fill="rgba(255,110,95,0.7)" stroke="#ff1a00" stroke-width="1.4"/>
<circle cx="1631.6" cy="443.3" r="2.65" fill="rgba(255,110,95,0.7)" stroke="#ff1a00" stroke-width="1.4"/>
<circle cx="1631.6" cy="430.9" r="2.65" fill="rgba(255,110,95,0.7)" stroke="#ff1a00" stroke-width="1.4"/>
<circle cx="1631.6" cy="418.6" r="2.65" fill="rgba(255,110,95,0.7)" stroke="#ff1a00" stroke-width="1.4"/>
<circle cx="1631.6" cy="406.2" r="2.65" fill="rgba(255,110,95,0.7)" stroke="#ff1a00" stroke-width="1.4"/>
<circle cx="1631.6" cy="393.9" r="2.65" fill="rgba(255,110,95,0.7)" stroke="#ff1a00" stroke-width="1.4"/>
<circle cx="1631.6" cy="381.5" r="2.65" fill="rgba(255,110,95,0.7)" stroke="#ff1a00" stroke-width="1.4"/>
<circle cx="1631.6" cy="369.2" r="2.65" fill="rgba(255,110,95,0.7)" stroke="#ff1a00" stroke-width="1.4"/>
<circle cx="1631.6" cy="356.8" r="2.65" fill="rgba(255,110,95,0.7)" stroke="#ff1a00" stroke-width="1.4"/>
<circle cx="1631.6" cy="344.4" r="2.7" fill="rgba(255,110,95,0.7)" stroke="#000" stroke-width="1.5"/>
<circle cx="1731.4" cy="715.1" r="2.7" fill="rgba(70,165,110,0.65)" stroke="#000" stroke-width="1.5"/>
<circle cx="1731.4" cy="702.7" r="2.65" fill="rgba(70,165,110,0.65)" stroke="#0a7a3c" stroke-width="1.4"/>
<circle cx="1731.4" cy="690.4" r="2.65" fill="rgba(70,165,110,0.65)" stroke="#0a7a3c" stroke-width="1.4"/>
<circle cx="1731.4" cy="678.0" r="2.65" fill="rgba(70,165,110,0.65)" stroke="#0a7a3c" stroke-width="1.4"/>
<circle cx="1731.4" cy="665.7" r="2.65" fill="rgba(70,165,110,0.65)" stroke="#0a7a3c" stroke-width="1.4"/>
<circle cx="1731.4" cy="653.3" r="2.65" fill="rgba(70,165,110,0.65)" stroke="#0a7a3c" stroke-width="1.4"/>
<circle cx="1731.4" cy="641.0" r="2.65" fill="rgba(70,165,110,0.65)" stroke="#0a7a3c" stroke-width="1.4"/>
<circle cx="1731.4" cy="628.6" r="2.65" fill="rgba(70,165,110,0.65)" stroke="#0a7a3c" stroke-width="1.4"/>
<circle cx="1731.4" cy="616.3" r="2.65" fill="rgba(70,165,110,0.65)" stroke="#0a7a3c" stroke-width="1.4"/>
<circle cx="1731.4" cy="603.9" r="2.65" fill="rgba(70,165,110,0.65)" stroke="#0a7a3c" stroke-width="1.4"/>
<circle cx="1731.4" cy="591.5" r="2.7" fill="rgba(70,165,110,0.65)" stroke="#000" stroke-width="1.5"/>
<circle cx="1731.4" cy="579.2" r="2.65" fill="rgba(70,165,110,0.65)" stroke="#0a7a3c" stroke-width="1.4"/>
<circle cx="1731.4" cy="566.8" r="2.65" fill="rgba(70,165,110,0.65)" stroke="#0a7a3c" stroke-width="1.4"/>
<circle cx="1731.4" cy="554.5" r="2.65" fill="rgba(70,165,110,0.65)" stroke="#0a7a3c" stroke-width="1.4"/>
<circle cx="1731.4" cy="542.1" r="2.65" fill="rgba(70,165,110,0.65)" stroke="#0a7a3c" stroke-width="1.4"/>
<circle cx="1731.4" cy="529.8" r="2.65" fill="rgba(70,165,110,0.65)" stroke="#0a7a3c" stroke-width="1.4"/>
<circle cx="1731.4" cy="517.4" r="2.65" fill="rgba(70,165,110,0.65)" stroke="#0a7a3c" stroke-width="1.4"/>
<circle cx="1731.4" cy="505.1" r="2.65" fill="rgba(70,165,110,0.65)" stroke="#0a7a3c" stroke-width="1.4"/>
<circle cx="1731.4" cy="492.7" r="2.65" fill="rgba(70,165,110,0.65)" stroke="#0a7a3c" stroke-width="1.4"/>
<circle cx="1731.4" cy="480.4" r="2.65" fill="rgba(70,165,110,0.65)" stroke="#0a7a3c" stroke-width="1.4"/>
<circle cx="1731.4" cy="468.0" r="2.7" fill="rgba(70,165,110,0.65)" stroke="#000" stroke-width="1.5"/>
<circle cx="1731.4" cy="455.6" r="2.65" fill="rgba(70,165,110,0.65)" stroke="#0a7a3c" stroke-width="1.4"/>
<circle cx="1731.4" cy="443.3" r="2.65" fill="rgba(70,165,110,0.65)" stroke="#0a7a3c" stroke-width="1.4"/>
<circle cx="1731.4" cy="430.9" r="2.65" fill="rgba(70,165,110,0.65)" stroke="#0a7a3c" stroke-width="1.4"/>
<circle cx="1731.4" cy="418.6" r="2.65" fill="rgba(70,165,110,0.65)" stroke="#0a7a3c" stroke-width="1.4"/>
<circle cx="1731.4" cy="406.2" r="2.65" fill="rgba(70,165,110,0.65)" stroke="#0a7a3c" stroke-width="1.4"/>
<circle cx="1731.4" cy="393.9" r="2.65" fill="rgba(70,165,110,0.65)" stroke="#0a7a3c" stroke-width="1.4"/>
<circle cx="1731.4" cy="381.5" r="2.65" fill="rgba(70,165,110,0.65)" stroke="#0a7a3c" stroke-width="1.4"/>
<circle cx="1731.4" cy="369.2" r="2.65" fill="rgba(70,165,110,0.65)" stroke="#0a7a3c" stroke-width="1.4"/>
<circle cx="1731.4" cy="356.8" r="2.65" fill="rgba(70,165,110,0.65)" stroke="#0a7a3c" stroke-width="1.4"/>
<circle cx="1731.4" cy="344.5" r="2.7" fill="rgba(70,165,110,0.65)" stroke="#000" stroke-width="1.5"/>
<circle cx="1816.2" cy="715.1" r="2.7" fill="rgba(110,150,255,0.65)" stroke="#000" stroke-width="1.5"/>
<circle cx="1816.2" cy="702.7" r="2.65" fill="rgba(110,150,255,0.65)" stroke="#1a4dff" stroke-width="1.4"/>
<circle cx="1816.2" cy="690.4" r="2.65" fill="rgba(110,150,255,0.65)" stroke="#1a4dff" stroke-width="1.4"/>
<circle cx="1816.2" cy="678.0" r="2.65" fill="rgba(110,150,255,0.65)" stroke="#1a4dff" stroke-width="1.4"/>
<circle cx="1816.2" cy="665.7" r="2.65" fill="rgba(110,150,255,0.65)" stroke="#1a4dff" stroke-width="1.4"/>
<circle cx="1816.2" cy="653.3" r="2.65" fill="rgba(110,150,255,0.65)" stroke="#1a4dff" stroke-width="1.4"/>
<circle cx="1816.2" cy="641.0" r="2.65" fill="rgba(110,150,255,0.65)" stroke="#1a4dff" stroke-width="1.4"/>
<circle cx="1816.2" cy="628.6" r="2.65" fill="rgba(110,150,255,0.65)" stroke="#1a4dff" stroke-width="1.4"/>
<circle cx="1816.2" cy="616.3" r="2.65" fill="rgba(110,150,255,0.65)" stroke="#1a4dff" stroke-width="1.4"/>
<circle cx="1816.2" cy="603.9" r="2.65" fill="rgba(110,150,255,0.65)" stroke="#1a4dff" stroke-width="1.4"/>
<circle cx="1816.2" cy="591.5" r="2.7" fill="rgba(110,150,255,0.65)" stroke="#000" stroke-width="1.5"/>
<circle cx="1816.2" cy="579.2" r="2.65" fill="rgba(110,150,255,0.65)" stroke="#1a4dff" stroke-width="1.4"/>
<circle cx="1816.2" cy="566.8" r="2.65" fill="rgba(110,150,255,0.65)" stroke="#1a4dff" stroke-width="1.4"/>
<circle cx="1816.2" cy="554.5" r="2.65" fill="rgba(110,150,255,0.65)" stroke="#1a4dff" stroke-width="1.4"/>
<circle cx="1816.2" cy="542.1" r="2.65" fill="rgba(110,150,255,0.65)" stroke="#1a4dff" stroke-width="1.4"/>
<circle cx="1816.2" cy="529.8" r="2.65" fill="rgba(110,150,255,0.65)" stroke="#1a4dff" stroke-width="1.4"/>
<circle cx="1816.2" cy="517.4" r="2.65" fill="rgba(110,150,255,0.65)" stroke="#1a4dff" stroke-width="1.4"/>
<circle cx="1816.2" cy="505.1" r="2.65" fill="rgba(110,150,255,0.65)" stroke="#1a4dff" stroke-width="1.4"/>
<circle cx="1816.2" cy="492.7" r="2.65" fill="rgba(110,150,255,0.65)" stroke="#1a4dff" stroke-width="1.4"/>
<circle cx="1816.2" cy="480.4" r="2.65" fill="rgba(110,150,255,0.65)" stroke="#1a4dff" stroke-width="1.4"/>
<circle cx="1816.2" cy="468.0" r="2.7" fill="rgba(110,150,255,0.65)" stroke="#000" stroke-width="1.5"/>
<circle cx="1816.2" cy="455.6" r="2.65" fill="rgba(110,150,255,0.65)" stroke="#1a4dff" stroke-width="1.4"/>
<circle cx="1816.2" cy="443.3" r="2.65" fill="rgba(110,150,255,0.65)" stroke="#1a4dff" stroke-width="1.4"/>
<circle cx="1816.2" cy="430.9" r="2.65" fill="rgba(110,150,255,0.65)" stroke="#1a4dff" stroke-width="1.4"/>
<circle cx="1816.2" cy="418.6" r="2.65" fill="rgba(110,150,255,0.65)" stroke="#1a4dff" stroke-width="1.4"/>
<circle cx="1816.2" cy="406.2" r="2.65" fill="rgba(110,150,255,0.65)" stroke="#1a4dff" stroke-width="1.4"/>
<circle cx="1816.2" cy="393.9" r="2.65" fill="rgba(110,150,255,0.65)" stroke="#1a4dff" stroke-width="1.4"/>
<circle cx="1816.2" cy="381.5" r="2.65" fill="rgba(110,150,255,0.65)" stroke="#1a4dff" stroke-width="1.4"/>
<circle cx="1816.2" cy="369.2" r="2.65" fill="rgba(110,150,255,0.65)" stroke="#1a4dff" stroke-width="1.4"/>
<circle cx="1816.2" cy="356.8" r="2.65" fill="rgba(110,150,255,0.65)" stroke="#1a4dff" stroke-width="1.4"/>
<circle cx="1816.2" cy="344.4" r="2.7" fill="rgba(110,150,255,0.65)" stroke="#000" stroke-width="1.5"/>
<circle cx="1894.6" cy="568.0" r="2.7" fill="rgba(160,160,160,0.65)" stroke="#000" stroke-width="1.5"/>
<circle cx="1894.6" cy="558.0" r="2.65" fill="rgba(160,160,160,0.65)" stroke="#6e6e6e" stroke-width="1.4"/>
<circle cx="1894.6" cy="548.0" r="2.65" fill="rgba(160,160,160,0.65)" stroke="#6e6e6e" stroke-width="1.4"/>
<circle cx="1894.6" cy="538.0" r="2.65" fill="rgba(160,160,160,0.65)" stroke="#6e6e6e" stroke-width="1.4"/>
<circle cx="1894.6" cy="528.0" r="2.65" fill="rgba(160,160,160,0.65)" stroke="#6e6e6e" stroke-width="1.4"/>
<circle cx="1894.6" cy="518.0" r="2.65" fill="rgba(160,160,160,0.65)" stroke="#6e6e6e" stroke-width="1.4"/>
<circle cx="1894.6" cy="508.0" r="2.65" fill="rgba(160,160,160,0.65)" stroke="#6e6e6e" stroke-width="1.4"/>
<circle cx="1894.6" cy="498.0" r="2.65" fill="rgba(160,160,160,0.65)" stroke="#6e6e6e" stroke-width="1.4"/>
<circle cx="1894.6" cy="488.0" r="2.65" fill="rgba(160,160,160,0.65)" stroke="#6e6e6e" stroke-width="1.4"/>
<circle cx="1894.6" cy="478.0" r="2.65" fill="rgba(160,160,160,0.65)" stroke="#6e6e6e" stroke-width="1.4"/>
<circle cx="1894.6" cy="468.0" r="2.7" fill="rgba(160,160,160,0.65)" stroke="#000" stroke-width="1.5"/>
<circle cx="1894.6" cy="458.0" r="2.65" fill="rgba(160,160,160,0.65)" stroke="#6e6e6e" stroke-width="1.4"/>
<circle cx="1894.6" cy="448.0" r="2.65" fill="rgba(160,160,160,0.65)" stroke="#6e6e6e" stroke-width="1.4"/>
<circle cx="1894.6" cy="438.0" r="2.65" fill="rgba(160,160,160,0.65)" stroke="#6e6e6e" stroke-width="1.4"/>
<circle cx="1894.6" cy="428.0" r="2.65" fill="rgba(160,160,160,0.65)" stroke="#6e6e6e" stroke-width="1.4"/>
<circle cx="1894.6" cy="418.0" r="2.65" fill="rgba(160,160,160,0.65)" stroke="#6e6e6e" stroke-width="1.4"/>
<circle cx="1894.6" cy="408.0" r="2.65" fill="rgba(160,160,160,0.65)" stroke="#6e6e6e" stroke-width="1.4"/>
<circle cx="1894.6" cy="398.0" r="2.65" fill="rgba(160,160,160,0.65)" stroke="#6e6e6e" stroke-width="1.4"/>
<circle cx="1894.6" cy="388.0" r="2.65" fill="rgba(160,160,160,0.65)" stroke="#6e6e6e" stroke-width="1.4"/>
<circle cx="1894.6" cy="378.0" r="2.65" fill="rgba(160,160,160,0.65)" stroke="#6e6e6e" stroke-width="1.4"/>
<circle cx="1894.6" cy="368.0" r="2.7" fill="rgba(160,160,160,0.65)" stroke="#000" stroke-width="1.5"/>
</g>
<text x="49.0" y="114.2" font-size="26.0" fill="#000" stroke="#fff" stroke-width="0.3">T</text>
<text transform="translate(60.0,194.5) rotate(-90.0)" font-size="16.0" fill="#9a9a9a" font-style="italic" >Kruskal</text>
<text x="56.0" y="336.4" font-size="13.5" fill="#000" >0</text>
<text transform="translate(51.0,492.5) rotate(-45.0)" font-size="16.0" fill="#000" >Rs</text>
<text transform="translate(482.0,60.0) rotate(-45.0)" font-size="16.0" fill="#000" >Z+1</text>
<text transform="translate(514.0,61.0) rotate(-47.0)" font-size="13.0" fill="#ff1a00" >1,871</text>
<text transform="translate(583.0,61.0) rotate(-51.0)" font-size="13.0" fill="#0a7a3c" >1,453</text>
<text transform="translate(709.0,60.0) rotate(-57.0)" font-size="13.0" fill="#1a4dff" >1,309</text>
<text transform="translate(764.0,69.0) rotate(-30.0)" font-size="14.0" fill="#666" >1,309</text>
<text transform="translate(929.0,71.0) rotate(-25.0)" font-size="14.0" fill="#666" >1,0</text>
<text transform="translate(288.0,388.0) rotate(-18.8)" font-size="13.5" fill="#666" >0,711</text>
<text transform="translate(438.0,388.0) rotate(-11.8)" font-size="13.5" fill="#666" >0,423</text>
<text transform="translate(641.0,363.0) rotate(-9.6)" font-size="13.5" fill="#666" >0,343</text>
<text x="807.8" y="461.6" font-size="14.0" fill="#aaa" >0</text>
<text x="887.2" y="456.7" font-size="26.0" fill="#000" stroke="#fff" stroke-width="0.3">X</text>
<text x="339.0" y="524.8" font-size="13.5" fill="#0a7a3c" >0,236</text>
<text x="403.0" y="579.2" font-size="13.5" fill="#0a7a3c" >0,481</text>
<text x="816.5" y="596.0" font-size="13.0" fill="#666" >0,343</text>
<text x="823.0" y="625.8" font-size="13.0" fill="#666" >0,423</text>
<text x="854.0" y="732.7" font-size="13.0" fill="#666" >0,711</text>
<text transform="translate(636.0,1016.0) rotate(45.0)" font-size="13.0" fill="#ff1a00" >1,4 Rs</text>
<text transform="translate(691.0,1016.0) rotate(45.0)" font-size="13.0" fill="#0a7a3c" >1,9 Rs</text>
<text transform="translate(797.0,1016.0) rotate(45.0)" font-size="13.0" fill="#1a4dff" >2,4 Rs</text>
<text x="983.0" y="113.3" font-size="26.0" fill="#000" stroke="#fff" stroke-width="0.3">t</text>
<text transform="translate(990.0,244.2) rotate(-90.0)" font-size="16.0" fill="#9a9a9a" font-style="italic" >Schwarzschild</text>
<text x="985.0" y="471.9" font-size="13.5" fill="#000" >0</text>
<text x="1394.0" y="306.0" font-size="13.0" fill="#666" >1,309</text>
<text x="1394.0" y="344.0" font-size="13.0" fill="#666" >1,0</text>
<text x="1188.5" y="374.4" font-size="13.5" fill="#666" >0,711</text>
<text x="1250.5" y="410.0" font-size="13.5" fill="#666" >0,423</text>
<text x="1312.0" y="419.4" font-size="13.5" fill="#666" >0,343</text>
<text x="1394.0" y="456.6" font-size="26.0" fill="#000" stroke="#fff" stroke-width="0.3">r</text>
<text x="1368.8" y="461.2" font-size="14.0" fill="#aaa" >0</text>
<text x="1195.0" y="514.8" font-size="13.5" fill="#0a7a3c" >0,236</text>
<text x="1244.0" y="559.5" font-size="13.5" fill="#0a7a3c" >0,481</text>
<text x="1369.0" y="509.0" font-size="13.0" fill="#666" >0,343</text>
<text x="1369.0" y="526.5" font-size="13.0" fill="#666" >0,423</text>
<text x="1369.0" y="558.9" font-size="13.0" fill="#666" >0,711</text>
<text transform="translate(1131.0,1028.7) rotate(-90.0)" font-size="16.0" fill="#000" >Rs</text>
<text transform="translate(1178.0,1047.0) rotate(-90.0)" font-size="13.0" fill="#ff1a00" >1,4 Rs</text>
<text transform="translate(1239.0,1047.0) rotate(-90.0)" font-size="13.0" fill="#0a7a3c" >1,9 Rs</text>
<text transform="translate(1302.0,1047.0) rotate(-90.0)" font-size="13.0" fill="#1a4dff" >2,4 Rs</text>
<text transform="translate(1453.0,188.3) rotate(-90.0)" font-size="16.0" fill="#9a9a9a" font-style="italic" >Flamm</text>
<text x="1630.0" y="47.5" font-size="13.0" fill="#ff1a00" text-anchor="middle" >0,374</text>
<text x="1732.0" y="47.5" font-size="13.0" fill="#0a7a3c" text-anchor="middle" >0,291</text>
<text x="1815.0" y="47.5" font-size="13.0" fill="#1a4dff" text-anchor="middle" >0,262</text>
<text x="1934.0" y="333.0" font-size="13.0" fill="#666" >1,309</text>
<text x="1935.0" y="364.6" font-size="13.0" fill="#666" >1,0</text>
<text transform="translate(1663.0,409.8) rotate(-9.0)" font-size="13.5" fill="#666" >0,711</text>
<text transform="translate(1755.0,425.0) rotate(-5.0)" font-size="13.5" fill="#666" >0,423</text>
<text transform="translate(1836.0,430.0) rotate(-3.0)" font-size="13.5" fill="#666" >0,343</text>
<text x="1935.0" y="456.9" font-size="26.0" fill="#000" stroke="#fff" stroke-width="0.3">d</text>
<text x="1903.8" y="461.2" font-size="14.0" fill="#aaa" >0</text>
<text x="1690.5" y="501.7" font-size="13.5" fill="#0a7a3c" >0,236</text>
<text x="1739.5" y="532.5" font-size="13.5" fill="#0a7a3c" >0,481</text>
<text x="1904.0" y="501.7" font-size="13.0" fill="#666" >0,343</text>
<text x="1904.0" y="516.4" font-size="13.0" fill="#666" >0,423</text>
<text x="1904.0" y="542.3" font-size="13.0" fill="#666" >0,711</text>
<text transform="translate(1472.0,1029.8) rotate(-90.0)" font-size="16.0" fill="#000" >Rs</text>
<text transform="translate(1635.0,1047.6) rotate(-90.0)" font-size="13.0" fill="#999" >1,4 Rs</text>
<text transform="translate(1735.0,1047.6) rotate(-90.0)" font-size="13.0" fill="#999" >1,9 Rs</text>
<text transform="translate(1820.0,1048.0) rotate(-90.0)" font-size="13.0" fill="#1a4dff" >2,4 Rs</text>
<g transform="translate(985.0,1021.3) rotate(58.0)"><path d="M-10.5,0 C-10.5,-6 -3,-6 0,0 C3,6 10.5,6 10.5,0 C10.5,-6 3,-6 0,0 C-3,6 -10.5,6 -10.5,0Z" fill="none" stroke="#555" stroke-width="2.2"/></g>
<g transform="translate(1361.0,1024.8) rotate(90.0)"><path d="M-10.5,0 C-10.5,-6 -3,-6 0,0 C3,6 10.5,6 10.5,0 C10.5,-6 3,-6 0,0 C-3,6 -10.5,6 -10.5,0Z" fill="none" stroke="#555" stroke-width="2.2"/></g>
<g transform="translate(1895.8,1024.5) rotate(90.0)"><path d="M-10.5,0 C-10.5,-6 -3,-6 0,0 C3,6 10.5,6 10.5,0 C10.5,-6 3,-6 0,0 C-3,6 -10.5,6 -10.5,0Z" fill="none" stroke="#555" stroke-width="2.2"/></g>
<path d="M1442.7,101.9 C1443.6,100.6 1445,100.4 1447,100.6 L1454.6,100.5 M1448.6,101 C1447.8,103.5 1447.6,106 1448,108.6 C1448.4,111.6 1450.3,113.1 1453.3,111.9" fill="none" stroke="#000" stroke-width="2.2" stroke-linecap="round"/>
<path d="M1607.0,61.3 L1654.0,61.3 M1614.0,56.3 L1607.0,61.3 L1614.0,66.3 M1647.0,56.3 L1654.0,61.3 L1647.0,66.3" fill="none" stroke="#ff1a00" stroke-width="1"/>
<path d="M1712.0,61.3 L1749.2,61.3 M1719.0,56.3 L1712.0,61.3 L1719.0,66.3 M1742.2,56.3 L1749.2,61.3 L1742.2,66.3" fill="none" stroke="#0a7a3c" stroke-width="1"/>
<path d="M1799.2,61.3 L1832.2,61.3 M1806.2,56.3 L1799.2,61.3 L1806.2,66.3 M1825.2,56.3 L1832.2,61.3 L1825.2,66.3" fill="none" stroke="#1a4dff" stroke-width="1"/>
</svg>
</body></html>
